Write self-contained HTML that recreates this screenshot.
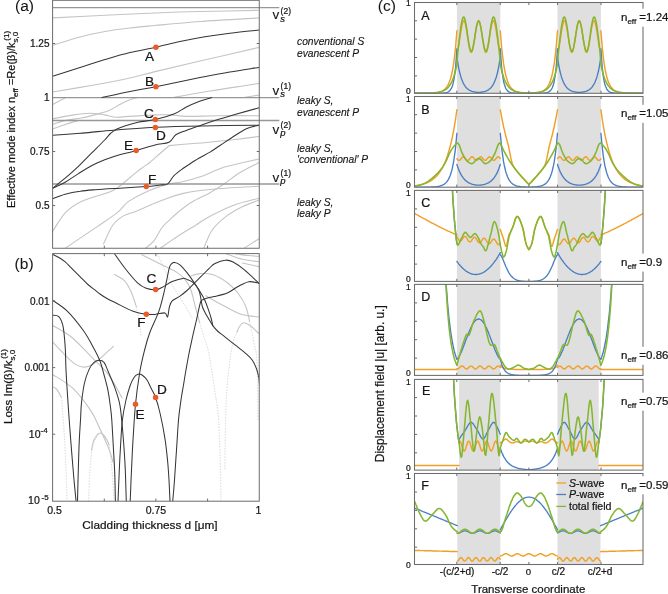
<!DOCTYPE html><html><head><meta charset="utf-8"><style>html,body{margin:0;padding:0;background:#fff;overflow:hidden}svg{display:block;will-change:transform;font-family:"Liberation Sans",sans-serif}text{fill:#151515;stroke:#151515;stroke-width:0.22px}</style></head><body><svg width="668" height="594" viewBox="0 0 668 594">
<rect x="0" y="0" width="668" height="594" fill="#fff"/>
<clipPath id="ca"><rect x="52.6" y="0.3" width="206.66" height="247.95"/></clipPath>
<g clip-path="url(#ca)">
<path d="M52.6,17.9C60.5,17.5 82.9,16.3 100,15.5C117.1,14.7 138.3,13.7 155,13C171.7,12.3 182.7,11.9 200,11.5C217.3,11.1 249.2,10.5 259,10.3" fill="none" stroke="#c4c4c4" stroke-width="1.1" stroke-linejoin="round" stroke-linecap="round" />
<path d="M52.6,45.3C57.2,43.9 71.3,39.3 80,37C88.7,34.7 96.7,33 105,31.5C113.3,30 121.7,29 130,28C138.3,27 143.3,26.6 155,25.5C166.7,24.4 182.7,22.8 200,21.5C217.3,20.2 249.2,18.5 259,17.9" fill="none" stroke="#c4c4c4" stroke-width="1.1" stroke-linejoin="round" stroke-linecap="round" />
<path d="M52.6,92C59.5,90.8 81.1,87.3 94,85C106.9,82.7 119.8,80.2 130,78C140.2,75.8 143.3,74.4 155,71.6C166.7,68.8 182.7,65 200,61C217.3,57 249.2,49.7 259,47.4" fill="none" stroke="#c4c4c4" stroke-width="1.1" stroke-linejoin="round" stroke-linecap="round" />
<path d="M173.9,97.4C179.9,96.3 197.5,93.1 210,91C222.5,88.9 240.8,86.3 249,85C257.2,83.7 257.3,83.7 259,83.4" fill="none" stroke="#c4c4c4" stroke-width="1.1" stroke-linejoin="round" stroke-linecap="round" />
<path d="M245,97.4L259,95" fill="none" stroke="#c4c4c4" stroke-width="1.1" stroke-linejoin="round" stroke-linecap="round" />
<path d="M52.6,104.6C53.8,103.9 57.8,101.7 60,100.5C62.2,99.3 65,98 66,97.5" fill="none" stroke="#c4c4c4" stroke-width="1.1" stroke-linejoin="round" stroke-linecap="round" />
<path d="M52.6,118.8C56.1,118.2 67.5,115.8 73.6,114.9C79.7,114 84.8,113.4 89.3,113.3C93.8,113.2 97.1,113.7 100.3,114.1C103.5,114.5 105.6,115.2 108.2,115.7C110.8,116.2 112.6,117.1 116,117.2C119.4,117.3 122.1,116.8 128.6,116.4C135.1,116 148,115.2 155,114.9C162,114.7 165.5,114.7 170.7,114.9C175.9,115.2 178.5,116.3 186.4,116.4C194.3,116.5 205.8,115.8 217.9,115.7C230,115.6 252.2,115.7 259,115.7" fill="none" stroke="#c4c4c4" stroke-width="1.1" stroke-linejoin="round" stroke-linecap="round" />
<path d="M52.6,124.3C54.8,123.7 60.9,121.5 65.7,120.4C70.5,119.4 76.2,119 81.4,118C86.7,117 92.5,115.4 97.2,114.1C101.9,112.8 105.8,111.9 109.7,110.2C113.6,108.5 117.1,105.8 120.8,103.9C124.5,102.1 128.9,100.2 131.8,99.1C134.7,98 137,97.7 138,97.4" fill="none" stroke="#c4c4c4" stroke-width="1.1" stroke-linejoin="round" stroke-linecap="round" />
<path d="M52.6,129C54.8,128.2 61.4,125.7 65.7,124.3C70,122.9 76.2,121.1 78.3,120.4" fill="none" stroke="#c4c4c4" stroke-width="1.1" stroke-linejoin="round" stroke-linecap="round" />
<path d="M52.6,231.3C54.8,228.2 60.9,217.4 65.7,212.4C70.5,207.4 73.5,205.1 81.4,201.4C89.3,197.7 104.8,194.4 112.9,190.4C121,186.4 125.3,181.2 130,177.5C134.7,173.8 137.9,171.1 141.2,168.5C144.5,165.9 146.9,164.7 150,162.2C153.1,159.7 156.8,156.3 160,153.5C163.2,150.7 167.7,146.9 169.2,145.6" fill="none" stroke="#c4c4c4" stroke-width="1.1" stroke-linejoin="round" stroke-linecap="round" />
<path d="M169.2,145.6C172.7,145.3 183.8,144.3 190,143.8C196.2,143.3 199.8,143.1 206.6,142.5C213.4,141.9 222.3,141 231,140C239.7,139 254.3,137.1 259,136.5" fill="none" stroke="#c4c4c4" stroke-width="1.1" stroke-linejoin="round" stroke-linecap="round" />
<path d="M65,248.4C70.4,244.8 88.4,232.6 97.2,226.6C106,220.6 112.4,216.6 117.6,212.4C122.8,208.2 123.2,205.1 128.6,201.4C134,197.7 143.6,193 150,190.2C156.4,187.4 161.2,185.8 166.8,184.4C172.4,183 177.9,182.8 183.5,181.5C189.1,180.2 193.3,179.2 200.3,176.8C207.3,174.4 215.7,169.8 225.5,166.8C235.3,163.8 253.4,160.3 259,159" fill="none" stroke="#c4c4c4" stroke-width="1.1" stroke-linejoin="round" stroke-linecap="round" />
<path d="M103.5,243.9C105.1,240.8 109.5,229.7 112.9,225C116.3,220.3 120.2,217.8 123.9,215.6C127.6,213.4 130.7,213.4 135,211.7C139.3,210 144.7,207.4 150,205.2C155.3,203 161.2,200.4 166.8,198.4C172.4,196.4 177.9,194.7 183.5,193.4C189.1,192.1 193.3,191.4 200.3,190.5C207.3,189.6 215.7,188.9 225.5,188.2C235.3,187.5 253.4,186.6 259,186.3" fill="none" stroke="#c4c4c4" stroke-width="1.1" stroke-linejoin="round" stroke-linecap="round" />
<path d="M145.3,248.4C146.7,247.2 151.1,244.4 153.9,240.9C156.7,237.4 159.5,230.9 162,227.5C164.5,224.1 166.4,222.9 169.1,220.3C171.8,217.8 174.3,215.2 178.1,212.2C181.9,209.1 186.8,205.1 191.9,202C197,198.9 203.4,196.3 208.7,193.4C214,190.5 218.4,187.8 223.6,184.3C228.8,180.8 234.1,176.1 240,172.5C245.9,168.9 255.8,164.2 259,162.6" fill="none" stroke="#c4c4c4" stroke-width="1.1" stroke-linejoin="round" stroke-linecap="round" />
<path d="M160.2,248.4C162,247.2 166.9,243.6 170.9,240.9C174.9,238.2 180.4,234.5 184.4,232C188.4,229.5 190.9,228.2 195,225.7C199.1,223.2 202.2,220.3 208.7,216.9C215.2,213.5 225.4,208.3 233.8,205.2C242.2,202.1 254.8,199.4 259,198.2" fill="none" stroke="#c4c4c4" stroke-width="1.1" stroke-linejoin="round" stroke-linecap="round" />
<path d="M203.7,248.4C205.1,245.4 208.4,235.6 212,230.3C215.6,225.1 220.5,220.8 225.5,216.9C230.5,213 236.6,209.6 242.2,206.8C247.8,204 256.2,201.1 259,200" fill="none" stroke="#c4c4c4" stroke-width="1.1" stroke-linejoin="round" stroke-linecap="round" />
<path d="M243.9,248.4L259,238.7" fill="none" stroke="#c4c4c4" stroke-width="1.1" stroke-linejoin="round" stroke-linecap="round" />
</g>
<line x1="52.6" y1="7.6" x2="279.3" y2="7.6" stroke="#979797" stroke-width="1.4" />
<line x1="52.6" y1="97.6" x2="279.3" y2="97.6" stroke="#979797" stroke-width="1.4" />
<line x1="52.6" y1="120.5" x2="279.3" y2="120.5" stroke="#979797" stroke-width="1.4" />
<line x1="52.6" y1="184" x2="279.3" y2="184" stroke="#979797" stroke-width="1.4" />
<g clip-path="url(#ca)">
<path d="M52.6,76.2C57.2,74.8 71.3,70.3 80,67.5C88.7,64.7 96.7,62 105,59.5C113.3,57 121.5,54.5 130,52.5C138.5,50.5 147.6,49 155.9,47.2C164.2,45.4 171.8,43.2 180,41.5C188.2,39.8 196.7,38.2 205,36.8C213.3,35.4 221,34.3 230,33.2C239,32.1 254.2,30.6 259,30.1" fill="none" stroke="#363636" stroke-width="1.05" stroke-linejoin="round" stroke-linecap="round" />
<path d="M101.9,97.5C106.6,96.5 121,93.3 130,91.5C139,89.7 144.2,89 155.9,86.7C167.6,84.4 187.7,80 200,77.5C212.3,75 220.2,73.7 230,72C239.8,70.3 254.2,68.2 259,67.4" fill="none" stroke="#363636" stroke-width="1.05" stroke-linejoin="round" stroke-linecap="round" />
<path d="M52.6,188.2C54.7,186.5 60.9,181.8 65.2,178.2C69.5,174.6 74,170.6 78.4,166.4C82.8,162.2 87.1,157.6 91.5,153.2C95.9,148.8 101.5,143.3 104.7,140C107.9,136.7 108.6,135.2 110.5,133.5C112.4,131.8 113.5,130.8 116,129.5C118.5,128.2 121.8,127 125.5,125.8C129.2,124.6 133.1,123.2 138,122.2C142.9,121.2 149.2,120.9 155.2,119.6C161.2,118.2 168.7,116.2 173.9,114.1C179.1,112 182.2,109.1 186.4,107C190.6,104.9 194.8,103.1 199,101.5C203.2,99.9 209.5,98.2 211.6,97.6" fill="none" stroke="#363636" stroke-width="1.05" stroke-linejoin="round" stroke-linecap="round" />
<path d="M52.6,135.3C57.2,135 70.4,134.1 80,133.3C89.6,132.5 97.5,131.5 110,130.5C122.5,129.5 139.9,128.1 155.2,127.3C170.5,126.5 184.7,126.2 202,125.9C219.3,125.6 249.5,125.3 259,125.2" fill="none" stroke="#363636" stroke-width="1.05" stroke-linejoin="round" stroke-linecap="round" />
<path d="M52.6,188.3C53.6,187.8 56.4,186.5 58.5,185.5C60.6,184.5 61.9,184.2 65.2,182.2C68.5,180.2 74,176.3 78.4,173.6C82.8,170.8 87.1,168 91.5,165.7C95.9,163.4 100.3,161.6 104.7,159.8C109.1,158.1 113.5,156.5 117.9,155.2C122.3,153.9 128,152.7 131,151.9C134.1,151.1 132.2,151.7 136.2,150.5C140.2,149.3 149.5,146.3 155,144.9C160.5,143.5 165.5,144 169,142.3C172.5,140.6 172.9,136.8 175.8,134.8C178.7,132.8 182.5,131.9 186.4,130.4C190.3,128.9 193.8,127.7 199,125.9C204.2,124.1 211.6,121.6 217.9,119.6C224.2,117.6 229.8,116.1 236.7,114.1C243.5,112.1 255.3,108.8 259,107.8" fill="none" stroke="#363636" stroke-width="1.05" stroke-linejoin="round" stroke-linecap="round" />
<path d="M52.6,198.8C54.7,198 60.6,195.5 65.2,194.2C69.8,192.9 75.2,191.9 80.3,191.2C85.3,190.4 88.9,190.2 95.5,189.7C102.1,189.2 111.5,188.7 120,188.2C128.5,187.7 139.7,187 146.4,186.5C153.1,186 156.4,185.4 160,185C163.6,184.6 165.3,185.5 167.7,183.9C170.1,182.3 171.6,178 174.2,175.4C176.8,172.8 179.8,170.8 183.3,168.3C186.9,165.8 191.1,162.9 195.5,160.2C199.9,157.5 205.9,154.5 210,152.1C214.1,149.7 216.3,147.9 220,145.5C223.7,143.1 227.6,140.3 232,137.5C236.4,134.7 241.9,130.8 246.4,128.7C250.9,126.6 256.9,125.8 259,125.2" fill="none" stroke="#363636" stroke-width="1.05" stroke-linejoin="round" stroke-linecap="round" />
</g>
<rect x="52.6" y="0.3" width="206.66" height="247.95" fill="none" stroke="#6c6c6c" stroke-width="1"/>
<line x1="52.6" y1="205.5" x2="55.2" y2="205.5" stroke="#6c6c6c" stroke-width="1" />
<line x1="256.7" y1="205.5" x2="259.3" y2="205.5" stroke="#6c6c6c" stroke-width="1" />
<line x1="52.6" y1="151.5" x2="55.2" y2="151.5" stroke="#6c6c6c" stroke-width="1" />
<line x1="256.7" y1="151.5" x2="259.3" y2="151.5" stroke="#6c6c6c" stroke-width="1" />
<line x1="52.6" y1="43.5" x2="55.2" y2="43.5" stroke="#6c6c6c" stroke-width="1" />
<line x1="256.7" y1="43.5" x2="259.3" y2="43.5" stroke="#6c6c6c" stroke-width="1" />
<line x1="104.3" y1="248.2" x2="104.3" y2="245.7" stroke="#6c6c6c" stroke-width="1" />
<line x1="155.9" y1="248.2" x2="155.9" y2="245.7" stroke="#6c6c6c" stroke-width="1" />
<line x1="207.6" y1="248.2" x2="207.6" y2="245.7" stroke="#6c6c6c" stroke-width="1" />
<circle cx="155.9" cy="47.2" r="2.75" fill="#eb5a2b"/>
<circle cx="155.9" cy="86.7" r="2.75" fill="#eb5a2b"/>
<circle cx="155.4" cy="119.4" r="2.75" fill="#eb5a2b"/>
<circle cx="155.4" cy="127.4" r="2.75" fill="#eb5a2b"/>
<circle cx="136.2" cy="150.4" r="2.75" fill="#eb5a2b"/>
<circle cx="146.3" cy="186.5" r="2.75" fill="#eb5a2b"/>
<text x="145.1" y="60.6" font-size="13.6" text-anchor="start"  >A</text>
<text x="144.9" y="86.3" font-size="13.6" text-anchor="start"  >B</text>
<text x="143.9" y="117.6" font-size="13.6" text-anchor="start"  >C</text>
<text x="156.1" y="140.4" font-size="13.6" text-anchor="start"  >D</text>
<text x="124.1" y="149.9" font-size="13.6" text-anchor="start"  >E</text>
<text x="148.1" y="183.8" font-size="13.6" text-anchor="start"  >F</text>
<clipPath id="cb"><rect x="52.6" y="253.6" width="206.66" height="247.6"/></clipPath>
<g clip-path="url(#cb)">
<path d="M114.5,274.5C116.2,275.5 121.7,277.8 124.4,280.6C127.2,283.5 129,287.2 131,291.6C133,296 135.5,304.3 136.4,306.9" fill="none" stroke="#c4c4c4" stroke-width="1.1" stroke-linejoin="round" stroke-linecap="round" />
<path d="M52.6,325.5C55.8,327.5 65,331.9 71.9,337.5C78.8,343.1 88,353.6 93.8,359.4C99.6,365.2 103.4,368.2 106.9,372.5C110.4,376.8 112.5,380.8 115,385C117.5,389.2 120.8,395.8 122,398" fill="none" stroke="#c4c4c4" stroke-width="1.1" stroke-linejoin="round" stroke-linecap="round" />
<path d="M52.6,341.9C55.8,345.2 66.9,357.4 71.9,361.6C76.9,365.8 79.2,366.6 82.8,367C86.4,367.4 88.7,367.2 93.8,363.8C98.9,360.4 110.1,349.2 113.4,346.3" fill="none" stroke="#c4c4c4" stroke-width="1.1" stroke-linejoin="round" stroke-linecap="round" />
<path d="M52.6,374.5C56,376.8 66.3,382.1 72.7,388.2C79.1,394.3 86.4,404.1 90.9,410.9C95.5,417.7 97,422.7 100,429.1C103,435.5 106.9,444 109.1,449.5C111.3,455 112.3,459.9 113,462" fill="none" stroke="#c4c4c4" stroke-width="1.1" stroke-linejoin="round" stroke-linecap="round" />
<path d="M52.6,387C53.3,387.4 55.3,387.6 56.8,389.3C58.3,391 60.6,396 61.4,397.3" fill="none" stroke="#c4c4c4" stroke-width="1.1" stroke-linejoin="round" stroke-linecap="round" />
<path d="M91.5,450C91.9,448.3 92.7,442.8 94,440C95.3,437.2 97.8,433.9 99.5,433.2C101.2,432.4 102.7,434.2 104,435.5C105.3,436.8 106.7,439.4 107.5,441C108.3,442.6 108.8,444.3 109.1,445" fill="none" stroke="#c4c4c4" stroke-width="1.1" stroke-linejoin="round" stroke-linecap="round" />
<path d="M141.8,254.7C144.6,256.1 152.5,260.1 158.3,263C164.1,265.9 172.1,269.4 176.5,272.1C180.9,274.8 182.6,276.4 185,279.4C187.4,282.4 189.2,285.3 190.9,290C192.7,294.7 194,302 195.5,307.5C197,313 199,320.2 199.7,322.8" fill="none" stroke="#c4c4c4" stroke-width="1.1" stroke-linejoin="round" stroke-linecap="round" />
<path d="M191.1,275.7C192.6,275.4 196.6,273.8 200.3,273.6C204,273.5 208.5,273.2 213.1,274.8C217.7,276.4 223.4,279.8 227.7,283C231.9,286.2 235.6,290 238.6,294C241.6,298 244.1,302.2 245.9,306.8C247.7,311.4 249,319 249.6,321.4" fill="none" stroke="#c4c4c4" stroke-width="1.1" stroke-linejoin="round" stroke-linecap="round" />
<path d="M205.8,295.8C208.5,297.3 216.4,301.9 222.2,305C228,308.1 234.7,312.1 240.5,314.1C246.3,316.1 253.8,316.3 256.9,316.8C260,317.3 258.6,317 259,317" fill="none" stroke="#c4c4c4" stroke-width="1.1" stroke-linejoin="round" stroke-linecap="round" />
<path d="M225.8,253.7C228.6,254.6 236.3,257.9 242.3,259.3C248.3,260.7 258.7,261.6 262,262" fill="none" stroke="#c4c4c4" stroke-width="1.1" stroke-linejoin="round" stroke-linecap="round" />
<path d="M235,253.7C237.2,254 243.5,255 248,255.5C252.5,256 259.7,256.3 262,256.5" fill="none" stroke="#c4c4c4" stroke-width="1.1" stroke-linejoin="round" stroke-linecap="round" />
<path d="M242.3,263L259,266.6" fill="none" stroke="#c4c4c4" stroke-width="1.1" stroke-linejoin="round" stroke-linecap="round" />
<path d="M237,332C237.4,331.1 238.4,328 239.5,326.5C240.6,325 241.7,323 243.4,322.8C245.2,322.6 247.4,323.7 250,325.5C252.6,327.3 257.5,332.3 259,333.7" fill="none" stroke="#c4c4c4" stroke-width="1.1" stroke-linejoin="round" stroke-linecap="round" />
<path d="M136.4,306.9C136.8,309.1 138.2,315.3 139,320C139.8,324.7 140.7,332.5 141,335" fill="none" stroke="#cfcfcf" stroke-width="0.9" stroke-linejoin="round" stroke-linecap="round" stroke-dasharray="0.6 2.2"/>
<path d="M61.4,397.3C61.8,402.8 63.2,417.9 64,430C64.8,442.1 65.5,458.3 66,470C66.5,481.7 66.8,495 67,500" fill="none" stroke="#cfcfcf" stroke-width="0.9" stroke-linejoin="round" stroke-linecap="round" stroke-dasharray="0.6 2.2"/>
<path d="M88.6,501C88.8,495.8 89.3,479.3 90,470C90.7,460.7 91.4,451.1 93,445C94.6,438.9 98.4,435.2 99.5,433.2" fill="none" stroke="#cfcfcf" stroke-width="0.9" stroke-linejoin="round" stroke-linecap="round" stroke-dasharray="0.6 2.2"/>
<path d="M109.1,445C109.6,449.2 111.2,460.8 112,470C112.8,479.2 113.7,495 114,500" fill="none" stroke="#cfcfcf" stroke-width="0.9" stroke-linejoin="round" stroke-linecap="round" stroke-dasharray="0.6 2.2"/>
<path d="M157.4,253.7C159.4,258 166,273 169.2,279.4C172.4,285.8 173.8,287.6 176.5,292.2C179.2,296.8 183.1,302.5 185.7,306.8C188.3,311.1 190.9,316.1 192,318" fill="none" stroke="#cfcfcf" stroke-width="0.9" stroke-linejoin="round" stroke-linecap="round" stroke-dasharray="0.6 2.2"/>
<path d="M199.7,322.8C200.4,325.2 202.6,332.3 204,337C205.4,341.7 206.9,344.4 208.4,351.2C209.9,357.9 211.5,369.5 212.8,377.5C214.1,385.5 215.2,393.1 216.1,399.3C217,405.5 217.7,407.8 218.3,414.6C218.9,421.4 219.1,430.8 219.5,440C219.9,449.2 220.2,460 220.5,470C220.8,480 220.9,495 221,500" fill="none" stroke="#cfcfcf" stroke-width="0.9" stroke-linejoin="round" stroke-linecap="round" stroke-dasharray="0.6 2.2"/>
<path d="M249.6,321.4C250,323.3 251.2,329.1 252,333C252.8,336.9 253.6,341.2 254.3,345C255.1,348.8 256,349.8 256.5,355.6C257,361.4 257.2,369.3 257.5,380C257.8,390.7 257.9,413.3 258,420" fill="none" stroke="#cfcfcf" stroke-width="0.9" stroke-linejoin="round" stroke-linecap="round" stroke-dasharray="0.6 2.2"/>
<path d="M237,332C236.2,334.1 233.8,338.9 232.5,344.7C231.2,350.4 230.1,359.2 229.2,366.5C228.3,373.8 227.6,381.1 227,388.4C226.4,395.7 226.2,401.7 225.9,410.3C225.6,418.9 225.4,430.1 225.2,440C225,449.9 224.9,465 224.8,470" fill="none" stroke="#cfcfcf" stroke-width="0.9" stroke-linejoin="round" stroke-linecap="round" stroke-dasharray="0.6 2.2"/>
<path d="M52.5,254.2C53.5,254.7 56.3,255.9 58.4,257.2C60.5,258.5 63.1,260.1 65.2,261.8C67.3,263.6 68.6,265.3 71,267.7C73.4,270.1 76.7,273.3 79.5,276.1C82.3,278.9 85.2,282.1 87.9,284.5C90.6,286.9 93.5,288.8 95.5,290.4C97.5,292 98.1,292.6 100,294C101.9,295.4 104.4,297 107,298.5C109.6,300 111.2,300.7 115.6,302.8C119.9,304.9 128,309.4 133.1,311.3C138.2,313.2 142.7,313.8 146.3,314.3C150,314.8 151.9,314.6 155,314.4C158.1,314.2 162.7,312.5 164.8,312.9C166.9,313.3 166.8,317.8 167.6,316.8C168.4,315.8 168.6,309.6 169.4,307C170.2,304.4 170.5,302.7 172.2,300.9C173.9,299.1 177.1,298.1 179.6,296.4C182.1,294.7 184.5,292.7 187,290.5C189.5,288.3 191.9,285.6 194.4,283.1C196.9,280.6 199.4,278.2 201.9,275.7C204.4,273.2 207,270.3 209.2,268.3C211.4,266.3 212.3,264.9 215,263.5C217.7,262.1 222.2,260.4 225.2,260.2C228.2,259.9 229.9,260.4 233.1,262C236.2,263.6 239.8,266.1 244.1,269.7C248.4,273.2 256.5,281 259,283.3" fill="none" stroke="#363636" stroke-width="1.05" stroke-linejoin="round" stroke-linecap="round" />
<path d="M114.5,253.7C116.2,256 120.6,262.6 124.4,267.5C128.2,272.4 133.8,279.3 137.5,282.8C141.2,286.3 143.3,287.1 146.3,288.3C149.3,289.5 153,289.9 155.6,289.8C158.2,289.7 159.1,288.9 161.9,287.5C164.7,286.1 168.8,283.1 172.2,281.6C175.6,280.1 180.1,278.8 182.6,278.4C185.1,278 185.3,278.7 187,279.4C188.7,280.1 191.3,281 193,282.4C194.7,283.8 196.1,285.6 197.4,287.5C198.8,289.4 199.9,291.5 201.1,293.5C202.3,295.5 203.3,296.8 204.5,299.5C205.7,302.2 207.3,306.5 208.4,309.7C209.5,312.9 210.5,315.9 211.2,318.5C211.9,321.1 212.5,324.4 212.8,325.6" fill="none" stroke="#363636" stroke-width="1.05" stroke-linejoin="round" stroke-linecap="round" />
<path d="M130.2,501.5C130.4,496.2 131,480.2 131.5,470C132,459.8 132.3,450.9 133,440C133.7,429.1 134.4,415.6 135.5,404.3C136.6,393 138.3,381.1 139.8,372C141.3,362.9 142.9,356.7 144.6,350C146.3,343.3 147.6,338.5 150,332C152.4,325.5 156.4,318.4 158.9,311.2C161.4,304 163.1,296.1 164.8,289C166.5,281.9 168.1,272.5 169.2,268.3C170.3,264.1 170.6,264.8 171.5,263.8C172.4,262.8 173.1,262.3 174.4,262.4C175.8,262.5 177.5,262.9 179.6,264.6C181.7,266.3 184.5,269.6 187,272.7C189.5,275.8 192.4,280.1 194.4,283.1C196.4,286.1 197.9,288.2 198.9,290.5C199.9,292.8 200.1,294.4 200.6,297C201.1,299.6 201.5,303.4 202.2,306C202.9,308.6 204,310.4 205,312.5C206,314.6 207.1,316.2 208.4,318.4C209.7,320.6 211.2,323.4 212.8,325.6C214.4,327.8 216.2,329.8 218,331.5C219.8,333.2 220.9,333.7 223.7,335.9C226.5,338.1 231,341.8 234.7,344.7C238.3,347.6 242.7,350.8 245.6,353.4C248.5,355.9 250.4,357.4 252.2,360C254,362.6 255.4,365.8 256.5,368.7C257.6,371.6 258.3,374.8 258.8,377.5C259.3,380.2 259.4,383.8 259.5,385" fill="none" stroke="#363636" stroke-width="1.05" stroke-linejoin="round" stroke-linecap="round" />
<path d="M172.7,501.5C173,497.9 173.9,488.6 174.5,480C175.1,471.4 175.8,460 176.5,450C177.2,440 177.8,428.3 178.5,420C179.2,411.7 180.2,405.8 181,400C181.8,394.2 182.7,389.8 183.5,385C184.3,380.2 184.9,376 185.8,371C186.7,366 187.6,360.7 188.7,355C189.8,349.3 191.3,342.5 192.5,337C193.7,331.5 195,326.2 196,322C197,317.8 197.5,314.9 198.3,311.5C199.1,308.1 199.9,303.5 200.8,301.5C201.7,299.5 202.2,300.1 203.5,299.5C204.8,298.9 206.7,298.2 208.4,297.7C210.2,297.2 210.8,297.4 214,296.6C217.2,295.8 223.3,294.7 227.3,293C231.3,291.3 234.5,288.4 238.1,286.5C241.7,284.6 245.4,282.2 248.9,281.7C252.4,281.2 257.3,283 259,283.3" fill="none" stroke="#363636" stroke-width="1.05" stroke-linejoin="round" stroke-linecap="round" />
<path d="M52.6,300.3C55.1,302.1 62.4,306.4 67.5,311.3C72.6,316.2 78.9,324.4 83,330C87.1,335.6 89.3,340.1 92.1,345.2C94.9,350.2 97.7,355.2 99.7,360.3C101.7,365.4 102.8,370.4 104.2,375.5C105.6,380.6 107,385.6 108,390.6C109,395.7 109.7,400.9 110.3,405.8C110.9,410.7 111.3,412.6 111.8,420C112.3,427.4 113,440.8 113.5,450C114,459.2 114.5,466.4 114.8,475C115.1,483.6 115.3,497.1 115.4,501.5" fill="none" stroke="#363636" stroke-width="1.05" stroke-linejoin="round" stroke-linecap="round" />
<path d="M77.5,501.5C77.6,496.2 78,480.2 78.3,470C78.6,459.8 78.9,448.3 79.3,440C79.7,431.7 80.1,426.2 80.5,420C80.9,413.8 80.8,408.9 81.5,402.7C82.2,396.5 83.2,388.6 84.5,383C85.8,377.4 87.5,372.8 89.1,369.4C90.7,365.9 92.3,363.8 94,362.3C95.7,360.8 97.7,360.3 99.4,360.3C101.1,360.3 102.7,360.8 104,362.3C105.3,363.8 105.5,365.2 107.3,369.4C109.1,373.6 112.8,382.1 114.8,387.6C116.8,393.2 118.2,397.3 119.4,402.7C120.6,408.1 121,412.9 121.7,420C122.4,427.1 123.2,436.7 123.8,445C124.4,453.3 124.9,460.6 125.3,470C125.7,479.4 126.1,496.2 126.3,501.5" fill="none" stroke="#363636" stroke-width="1.05" stroke-linejoin="round" stroke-linecap="round" />
<path d="M52.6,315.2C53.6,315.4 57,314.8 58.8,316.7C60.5,318.6 62,321.3 63.1,326.6C64.2,331.9 64.8,341.3 65.3,348.5C65.8,355.7 65.5,359.8 66,370C66.5,380.2 67.6,396.7 68.5,410C69.4,423.3 70.6,438.3 71.5,450C72.4,461.7 73.2,471.4 74,480C74.8,488.6 75.8,497.9 76.1,501.5" fill="none" stroke="#363636" stroke-width="1.05" stroke-linejoin="round" stroke-linecap="round" />
<path d="M118,501.5C118.2,496.2 118.9,479.4 119.3,470C119.7,460.6 120.1,453.3 120.6,445C121.1,436.7 121.5,427.5 122.4,420C123.3,412.5 124.7,405.7 126,400C127.3,394.3 128.7,389.8 130,386C131.3,382.2 132.7,379.5 134,377.5C135.3,375.5 136.7,374.6 138,374.2C139.3,373.8 140.5,374 142,375C143.5,376 145.5,377.8 147,380C148.5,382.2 149.6,385.1 151,388C152.4,390.9 154.1,393.3 155.6,397.5C157.1,401.7 158.4,406.1 160,413C161.6,419.9 163.8,431 165,438.8C166.2,446.6 166.8,453.1 167.5,460C168.2,466.9 168.6,473.1 169,480C169.4,486.9 169.8,497.9 170,501.5" fill="none" stroke="#363636" stroke-width="1.05" stroke-linejoin="round" stroke-linecap="round" />
</g>
<rect x="52.6" y="253.6" width="206.66" height="247.6" fill="none" stroke="#6c6c6c" stroke-width="1"/>
<line x1="52.6" y1="301" x2="55.2" y2="301" stroke="#6c6c6c" stroke-width="1" />
<line x1="52.6" y1="367.6" x2="55.2" y2="367.6" stroke="#6c6c6c" stroke-width="1" />
<line x1="52.6" y1="434.2" x2="55.2" y2="434.2" stroke="#6c6c6c" stroke-width="1" />
<line x1="104.3" y1="501.2" x2="104.3" y2="498.6" stroke="#6c6c6c" stroke-width="1" />
<line x1="104.3" y1="253.6" x2="104.3" y2="256.2" stroke="#6c6c6c" stroke-width="1" />
<line x1="155.9" y1="501.2" x2="155.9" y2="498.6" stroke="#6c6c6c" stroke-width="1" />
<line x1="155.9" y1="253.6" x2="155.9" y2="256.2" stroke="#6c6c6c" stroke-width="1" />
<line x1="207.6" y1="501.2" x2="207.6" y2="498.6" stroke="#6c6c6c" stroke-width="1" />
<line x1="207.6" y1="253.6" x2="207.6" y2="256.2" stroke="#6c6c6c" stroke-width="1" />
<circle cx="155.6" cy="289.6" r="2.75" fill="#eb5a2b"/>
<circle cx="146.3" cy="314.3" r="2.75" fill="#eb5a2b"/>
<circle cx="155.6" cy="397.4" r="2.75" fill="#eb5a2b"/>
<circle cx="135.5" cy="404.3" r="2.75" fill="#eb5a2b"/>
<text x="146.4" y="283" font-size="13.6" text-anchor="start"  >C</text>
<text x="137.3" y="327" font-size="13.6" text-anchor="start"  >F</text>
<text x="157" y="393.9" font-size="13.6" text-anchor="start"  >D</text>
<text x="135.5" y="418.9" font-size="13.6" text-anchor="start"  >E</text>
<clipPath id="cc0"><rect x="414.5" y="2.5" width="228.5" height="90.8"/></clipPath>
<rect x="456.9" y="2.5" width="43.4" height="90.8" fill="#dfdfdf"/>
<rect x="557.5" y="2.5" width="43.4" height="90.8" fill="#dfdfdf"/>
<g clip-path="url(#cc0)">
<path d="M414.5,93.2 L415.2,93.2 L415.8,93.2 L416.5,93.2 L417.1,93.2 L417.8,93.2 L418.5,93.2 L419.1,93.2 L419.8,93.2 L420.5,93.2 L421.1,93.2 L421.8,93.2 L422.4,93.2 L423.1,93.2 L423.8,93.2 L424.4,93.2 L425.1,93.2 L425.8,93.2 L426.4,93.2 L427.1,93.2 L427.8,93.2 L428.4,93.2 L429.1,93.1 L429.7,93.1 L430.4,93.1 L431.1,93.1 L431.7,93 L432.4,93 L433.1,93 L433.7,92.9 L434.4,92.9 L435,92.8 L435.7,92.7 L436.4,92.7 L437,92.6 L437.7,92.5 L438.3,92.3 L439,92.2 L439.7,92 L440.3,91.8 L441,91.6 L441.7,91.3 L442.3,91 L443,90.6 L443.6,90.2 L444.3,89.7 L445,89.1 L445.6,88.4 L446.3,87.6 L447,86.7 L447.6,85.7 L448.3,84.4 L448.9,83 L449.6,81.3 L450.3,79.4 L450.9,77.1 L451.6,74.5 L452.3,71.5 L452.9,68 L453.6,63.8 L454.2,59.1 L454.9,53.5 L455.6,47 L456.2,39.5 L456.9,30.8" fill="none" stroke="#f0a028" stroke-width="1.45" stroke-linejoin="round" stroke-linecap="round" />
<path d="M456.9,52.1 L457.6,50.7 L458.2,48.2 L458.9,44.8 L459.5,40.7 L460.2,36.3 L460.8,31.9 L461.5,27.9 L462.2,24.6 L462.8,22.1 L463.5,20.8 L464.1,20.8 L464.8,21.9 L465.4,24.2 L466.1,27.5 L466.8,31.4 L467.4,35.8 L468.1,40.2 L468.7,44.3 L469.4,47.8 L470.1,50.5 L470.7,52 L471.4,52.4 L472,51.5 L472.7,49.4 L473.3,46.4 L474,42.6 L474.7,38.3 L475.3,33.8 L476,29.6 L476.6,25.9 L477.3,23.1 L477.9,21.3 L478.6,20.6 L479.3,21.3 L479.9,23.1 L480.6,25.9 L481.2,29.6 L481.9,33.8 L482.5,38.3 L483.2,42.6 L483.9,46.4 L484.5,49.4 L485.2,51.5 L485.8,52.4 L486.5,52 L487.1,50.5 L487.8,47.8 L488.5,44.3 L489.1,40.2 L489.8,35.8 L490.4,31.4 L491.1,27.5 L491.8,24.2 L492.4,21.9 L493.1,20.8 L493.7,20.8 L494.4,22.1 L495,24.6 L495.7,27.9 L496.4,31.9 L497,36.3 L497.7,40.7 L498.3,44.8 L499,48.2 L499.6,50.7 L500.3,52.1" fill="none" stroke="#f0a028" stroke-width="1.45" stroke-linejoin="round" stroke-linecap="round" />
<path d="M500.3,30.8 L501,39.6 L501.6,47.1 L502.3,53.6 L503,59.1 L503.6,63.9 L504.3,68 L505,71.6 L505.6,74.6 L506.3,77.2 L507,79.5 L507.6,81.4 L508.3,83.1 L508.9,84.5 L509.6,85.7 L510.3,86.8 L510.9,87.7 L511.6,88.5 L512.3,89.1 L512.9,89.7 L513.6,90.2 L514.3,90.6 L514.9,91 L515.6,91.3 L516.3,91.6 L516.9,91.8 L517.6,92 L518.3,92.2 L518.9,92.3 L519.6,92.5 L520.3,92.6 L520.9,92.7 L521.6,92.8 L522.2,92.8 L522.9,92.9 L523.6,92.9 L524.2,93 L524.9,93 L525.6,93.1 L526.2,93.1 L526.9,93.1 L527.6,93.1 L528.2,93.1 L528.9,93.2 L529.6,93.1 L530.2,93.1 L530.9,93.1 L531.6,93.1 L532.2,93.1 L532.9,93 L533.6,93 L534.2,92.9 L534.9,92.9 L535.6,92.8 L536.2,92.8 L536.9,92.7 L537.5,92.6 L538.2,92.5 L538.9,92.3 L539.5,92.2 L540.2,92 L540.9,91.8 L541.5,91.6 L542.2,91.3 L542.9,91 L543.5,90.6 L544.2,90.2 L544.9,89.7 L545.5,89.1 L546.2,88.5 L546.9,87.7 L547.5,86.8 L548.2,85.7 L548.9,84.5 L549.5,83.1 L550.2,81.4 L550.8,79.5 L551.5,77.2 L552.2,74.6 L552.8,71.6 L553.5,68 L554.2,63.9 L554.8,59.1 L555.5,53.6 L556.2,47.1 L556.8,39.6 L557.5,30.8" fill="none" stroke="#f0a028" stroke-width="1.45" stroke-linejoin="round" stroke-linecap="round" />
<path d="M557.5,52.1 L558.2,50.7 L558.8,48.2 L559.5,44.8 L560.1,40.7 L560.8,36.3 L561.4,31.9 L562.1,27.9 L562.8,24.6 L563.4,22.1 L564.1,20.8 L564.7,20.8 L565.4,21.9 L566,24.2 L566.7,27.5 L567.4,31.4 L568,35.8 L568.7,40.2 L569.3,44.3 L570,47.8 L570.7,50.5 L571.3,52 L572,52.4 L572.6,51.5 L573.3,49.4 L573.9,46.4 L574.6,42.6 L575.3,38.3 L575.9,33.8 L576.6,29.6 L577.2,25.9 L577.9,23.1 L578.5,21.3 L579.2,20.6 L579.9,21.3 L580.5,23.1 L581.2,25.9 L581.8,29.6 L582.5,33.8 L583.1,38.3 L583.8,42.6 L584.5,46.4 L585.1,49.4 L585.8,51.5 L586.4,52.4 L587.1,52 L587.7,50.5 L588.4,47.8 L589.1,44.3 L589.7,40.2 L590.4,35.8 L591,31.4 L591.7,27.5 L592.4,24.2 L593,21.9 L593.7,20.8 L594.3,20.8 L595,22.1 L595.6,24.6 L596.3,27.9 L597,31.9 L597.6,36.3 L598.3,40.7 L598.9,44.8 L599.6,48.2 L600.2,50.7 L600.9,52.1" fill="none" stroke="#f0a028" stroke-width="1.45" stroke-linejoin="round" stroke-linecap="round" />
<path d="M600.9,30.8 L601.6,39.5 L602.2,47 L602.9,53.4 L603.5,58.9 L604.2,63.7 L604.8,67.8 L605.5,71.3 L606.2,74.4 L606.8,77 L607.5,79.2 L608.1,81.2 L608.8,82.9 L609.5,84.3 L610.1,85.6 L610.8,86.6 L611.4,87.5 L612.1,88.3 L612.7,89 L613.4,89.6 L614.1,90.1 L614.7,90.5 L615.4,90.9 L616,91.2 L616.7,91.5 L617.3,91.8 L618,92 L618.7,92.1 L619.3,92.3 L620,92.4 L620.6,92.5 L621.3,92.6 L622,92.7 L622.6,92.8 L623.3,92.9 L623.9,92.9 L624.6,93 L625.2,93 L625.9,93 L626.6,93.1 L627.2,93.1 L627.9,93.1 L628.5,93.1 L629.2,93.1 L629.8,93.2 L630.5,93.2 L631.2,93.2 L631.8,93.2 L632.5,93.2 L633.1,93.2 L633.8,93.2 L634.4,93.2 L635.1,93.2 L635.8,93.2 L636.4,93.2 L637.1,93.2 L637.7,93.2 L638.4,93.2 L639.1,93.2 L639.7,93.2 L640.4,93.2 L641,93.2 L641.7,93.2 L642.3,93.2 L643,93.2" fill="none" stroke="#f0a028" stroke-width="1.45" stroke-linejoin="round" stroke-linecap="round" />
<path d="M414.5,93.2 L415.2,93.2 L415.8,93.2 L416.5,93.2 L417.1,93.2 L417.8,93.2 L418.5,93.2 L419.1,93.2 L419.8,93.2 L420.5,93.2 L421.1,93.2 L421.8,93.2 L422.4,93.2 L423.1,93.2 L423.8,93.2 L424.4,93.2 L425.1,93.2 L425.8,93.2 L426.4,93.2 L427.1,93.2 L427.8,93.2 L428.4,93.2 L429.1,93.2 L429.7,93.2 L430.4,93.2 L431.1,93.2 L431.7,93.2 L432.4,93.2 L433.1,93.2 L433.7,93.2 L434.4,93.2 L435,93.2 L435.7,93.2 L436.4,93.2 L437,93.2 L437.7,93.2 L438.3,93.2 L439,93.2 L439.7,93.2 L440.3,93.2 L441,93.2 L441.7,93.1 L442.3,93.1 L443,93.1 L443.6,93 L444.3,93 L445,92.9 L445.6,92.8 L446.3,92.6 L447,92.4 L447.6,92.2 L448.3,91.8 L448.9,91.4 L449.6,90.8 L450.3,90.1 L450.9,89.2 L451.6,87.9 L452.3,86.3 L452.9,84.2 L453.6,81.4 L454.2,77.8 L454.9,73.2 L455.6,67.1 L456.2,59.1 L456.9,48.8" fill="none" stroke="#4a7ec4" stroke-width="1.35" stroke-linejoin="round" stroke-linecap="round" />
<path d="M456.9,56.9 L457.6,61.4 L458.2,65.3 L458.9,68.8 L459.5,71.8 L460.2,74.4 L460.8,76.7 L461.5,78.8 L462.2,80.6 L462.8,82.1 L463.5,83.5 L464.1,84.7 L464.8,85.7 L465.4,86.6 L466.1,87.5 L466.8,88.2 L467.4,88.8 L468.1,89.3 L468.7,89.8 L469.4,90.2 L470.1,90.5 L470.7,90.9 L471.4,91.1 L472,91.4 L472.7,91.6 L473.3,91.7 L474,91.9 L474.7,92 L475.3,92.1 L476,92.2 L476.6,92.2 L477.3,92.3 L477.9,92.3 L478.6,92.3 L479.3,92.3 L479.9,92.3 L480.6,92.2 L481.2,92.2 L481.9,92.1 L482.5,92 L483.2,91.9 L483.9,91.7 L484.5,91.6 L485.2,91.4 L485.8,91.1 L486.5,90.9 L487.1,90.5 L487.8,90.2 L488.5,89.8 L489.1,89.3 L489.8,88.8 L490.4,88.2 L491.1,87.5 L491.8,86.6 L492.4,85.7 L493.1,84.7 L493.7,83.5 L494.4,82.1 L495,80.6 L495.7,78.8 L496.4,76.7 L497,74.4 L497.7,71.8 L498.3,68.8 L499,65.3 L499.6,61.4 L500.3,56.9" fill="none" stroke="#4a7ec4" stroke-width="1.35" stroke-linejoin="round" stroke-linecap="round" />
<path d="M500.3,48.8 L501,59.2 L501.6,67.1 L502.3,73.2 L503,77.9 L503.6,81.5 L504.3,84.2 L505,86.3 L505.6,88 L506.3,89.2 L507,90.1 L507.6,90.9 L508.3,91.4 L508.9,91.9 L509.6,92.2 L510.3,92.4 L510.9,92.6 L511.6,92.8 L512.3,92.9 L512.9,93 L513.6,93 L514.3,93.1 L514.9,93.1 L515.6,93.2 L516.3,93.2 L516.9,93.2 L517.6,93.2 L518.3,93.2 L518.9,93.2 L519.6,93.2 L520.3,93.2 L520.9,93.2 L521.6,93.2 L522.2,93.2 L522.9,93.2 L523.6,93.2 L524.2,93.2 L524.9,93.2 L525.6,93.2 L526.2,93.2 L526.9,93.2 L527.6,93.2 L528.2,93.2 L528.9,93.2 L529.6,93.2 L530.2,93.2 L530.9,93.2 L531.6,93.2 L532.2,93.2 L532.9,93.2 L533.6,93.2 L534.2,93.2 L534.9,93.2 L535.6,93.2 L536.2,93.2 L536.9,93.2 L537.5,93.2 L538.2,93.2 L538.9,93.2 L539.5,93.2 L540.2,93.2 L540.9,93.2 L541.5,93.2 L542.2,93.2 L542.9,93.1 L543.5,93.1 L544.2,93 L544.9,93 L545.5,92.9 L546.2,92.8 L546.9,92.6 L547.5,92.4 L548.2,92.2 L548.9,91.9 L549.5,91.4 L550.2,90.9 L550.8,90.1 L551.5,89.2 L552.2,88 L552.8,86.3 L553.5,84.2 L554.2,81.5 L554.8,77.9 L555.5,73.2 L556.2,67.1 L556.8,59.2 L557.5,48.8" fill="none" stroke="#4a7ec4" stroke-width="1.35" stroke-linejoin="round" stroke-linecap="round" />
<path d="M557.5,56.9 L558.2,61.4 L558.8,65.3 L559.5,68.8 L560.1,71.8 L560.8,74.4 L561.4,76.7 L562.1,78.8 L562.8,80.6 L563.4,82.1 L564.1,83.5 L564.7,84.7 L565.4,85.7 L566,86.6 L566.7,87.5 L567.4,88.2 L568,88.8 L568.7,89.3 L569.3,89.8 L570,90.2 L570.7,90.5 L571.3,90.9 L572,91.1 L572.6,91.4 L573.3,91.6 L573.9,91.7 L574.6,91.9 L575.3,92 L575.9,92.1 L576.6,92.2 L577.2,92.2 L577.9,92.3 L578.5,92.3 L579.2,92.3 L579.9,92.3 L580.5,92.3 L581.2,92.2 L581.8,92.2 L582.5,92.1 L583.1,92 L583.8,91.9 L584.5,91.7 L585.1,91.6 L585.8,91.4 L586.4,91.1 L587.1,90.9 L587.7,90.5 L588.4,90.2 L589.1,89.8 L589.7,89.3 L590.4,88.8 L591,88.2 L591.7,87.5 L592.4,86.6 L593,85.7 L593.7,84.7 L594.3,83.5 L595,82.1 L595.6,80.6 L596.3,78.8 L597,76.7 L597.6,74.4 L598.3,71.8 L598.9,68.8 L599.6,65.3 L600.2,61.4 L600.9,56.9" fill="none" stroke="#4a7ec4" stroke-width="1.35" stroke-linejoin="round" stroke-linecap="round" />
<path d="M600.9,48.8 L601.6,59.1 L602.2,67 L602.9,73.1 L603.5,77.7 L604.2,81.3 L604.8,84.1 L605.5,86.2 L606.2,87.8 L606.8,89.1 L607.5,90 L608.1,90.8 L608.8,91.4 L609.5,91.8 L610.1,92.1 L610.8,92.4 L611.4,92.6 L612.1,92.7 L612.7,92.9 L613.4,93 L614.1,93 L614.7,93.1 L615.4,93.1 L616,93.1 L616.7,93.2 L617.3,93.2 L618,93.2 L618.7,93.2 L619.3,93.2 L620,93.2 L620.6,93.2 L621.3,93.2 L622,93.2 L622.6,93.2 L623.3,93.2 L623.9,93.2 L624.6,93.2 L625.2,93.2 L625.9,93.2 L626.6,93.2 L627.2,93.2 L627.9,93.2 L628.5,93.2 L629.2,93.2 L629.8,93.2 L630.5,93.2 L631.2,93.2 L631.8,93.2 L632.5,93.2 L633.1,93.2 L633.8,93.2 L634.4,93.2 L635.1,93.2 L635.8,93.2 L636.4,93.2 L637.1,93.2 L637.7,93.2 L638.4,93.2 L639.1,93.2 L639.7,93.2 L640.4,93.2 L641,93.2 L641.7,93.2 L642.3,93.2 L643,93.2" fill="none" stroke="#4a7ec4" stroke-width="1.35" stroke-linejoin="round" stroke-linecap="round" />
<path d="M414.5,93.2 L415.2,93.2 L415.8,93.2 L416.5,93.2 L417.1,93.2 L417.8,93.2 L418.5,93.2 L419.1,93.2 L419.8,93.2 L420.5,93.2 L421.1,93.2 L421.8,93.2 L422.4,93.2 L423.1,93.2 L423.8,93.2 L424.4,93.2 L425.1,93.2 L425.8,93.1 L426.4,93.1 L427.1,93.1 L427.8,93.1 L428.4,93.1 L429.1,93.1 L429.7,93 L430.4,93 L431.1,93 L431.7,93 L432.4,92.9 L433.1,92.9 L433.7,92.8 L434.4,92.8 L435,92.7 L435.7,92.6 L436.4,92.6 L437,92.5 L437.7,92.4 L438.3,92.3 L439,92.1 L439.7,92 L440.3,91.8 L441,91.6 L441.7,91.4 L442.3,91.2 L443,90.9 L443.6,90.6 L444.3,90.3 L445,89.9 L445.6,89.5 L446.3,89 L447,88.5 L447.6,87.9 L448.3,87.2 L448.9,86.4 L449.6,85.5 L450.3,84.5 L450.9,83.4 L451.6,82.2 L452.3,80.8 L452.9,79.2 L453.6,77.3 L454.2,75.3 L454.9,73 L455.6,70.4 L456.2,67.5 L456.9,64.2" fill="none" stroke="#84b630" stroke-width="1.55" stroke-linejoin="round" stroke-linecap="round" />
<path d="M456.9,63 L457.6,54.9 L458.2,48.2 L458.9,42.3 L459.5,36.8 L460.2,31.8 L460.8,27.2 L461.5,23.2 L462.2,20.1 L462.8,18 L463.5,17 L464.1,17.3 L464.8,18.8 L465.4,21.4 L466.1,25 L466.8,29.2 L467.4,33.8 L468.1,38.5 L468.7,42.8 L469.4,46.5 L470.1,49.3 L470.7,51 L471.4,51.5 L472,50.7 L472.7,48.8 L473.3,45.9 L474,42.2 L474.7,38 L475.3,33.8 L476,29.7 L476.6,26.2 L477.3,23.4 L477.9,21.7 L478.6,21.1 L479.3,21.7 L479.9,23.4 L480.6,26.2 L481.2,29.7 L481.9,33.8 L482.5,38 L483.2,42.2 L483.9,45.9 L484.5,48.8 L485.2,50.7 L485.8,51.5 L486.5,51 L487.1,49.3 L487.8,46.5 L488.5,42.8 L489.1,38.5 L489.8,33.8 L490.4,29.2 L491.1,25 L491.8,21.4 L492.4,18.8 L493.1,17.3 L493.7,17 L494.4,18 L495,20.1 L495.7,23.2 L496.4,27.2 L497,31.8 L497.7,36.8 L498.3,42.3 L499,48.2 L499.6,54.9 L500.3,63" fill="none" stroke="#84b630" stroke-width="1.55" stroke-linejoin="round" stroke-linecap="round" />
<path d="M500.3,64.2 L501,67.5 L501.6,70.4 L502.3,73 L503,75.3 L503.6,77.4 L504.3,79.2 L505,80.8 L505.6,82.2 L506.3,83.5 L507,84.6 L507.6,85.6 L508.3,86.4 L508.9,87.2 L509.6,87.9 L510.3,88.5 L510.9,89.1 L511.6,89.5 L512.3,90 L512.9,90.3 L513.6,90.7 L514.3,91 L514.9,91.2 L515.6,91.5 L516.3,91.7 L516.9,91.8 L517.6,92 L518.3,92.1 L518.9,92.3 L519.6,92.4 L520.3,92.5 L520.9,92.6 L521.6,92.6 L522.2,92.7 L522.9,92.8 L523.6,92.8 L524.2,92.9 L524.9,92.9 L525.6,93 L526.2,93 L526.9,93 L527.6,93 L528.2,93.1 L528.9,93.1 L529.6,93.1 L530.2,93 L530.9,93 L531.6,93 L532.2,93 L532.9,92.9 L533.6,92.9 L534.2,92.8 L534.9,92.8 L535.6,92.7 L536.2,92.6 L536.9,92.6 L537.5,92.5 L538.2,92.4 L538.9,92.3 L539.5,92.1 L540.2,92 L540.9,91.8 L541.5,91.7 L542.2,91.5 L542.9,91.2 L543.5,91 L544.2,90.7 L544.9,90.3 L545.5,90 L546.2,89.5 L546.9,89.1 L547.5,88.5 L548.2,87.9 L548.9,87.2 L549.5,86.4 L550.2,85.6 L550.8,84.6 L551.5,83.5 L552.2,82.2 L552.8,80.8 L553.5,79.2 L554.2,77.4 L554.8,75.3 L555.5,73 L556.2,70.4 L556.8,67.5 L557.5,64.2" fill="none" stroke="#84b630" stroke-width="1.55" stroke-linejoin="round" stroke-linecap="round" />
<path d="M557.5,63 L558.2,54.9 L558.8,48.2 L559.5,42.3 L560.1,36.8 L560.8,31.8 L561.4,27.2 L562.1,23.2 L562.8,20.1 L563.4,18 L564.1,17 L564.7,17.3 L565.4,18.8 L566,21.4 L566.7,25 L567.4,29.2 L568,33.8 L568.7,38.5 L569.3,42.8 L570,46.5 L570.7,49.3 L571.3,51 L572,51.5 L572.6,50.7 L573.3,48.8 L573.9,45.9 L574.6,42.2 L575.3,38 L575.9,33.8 L576.6,29.7 L577.2,26.2 L577.9,23.4 L578.5,21.7 L579.2,21.1 L579.9,21.7 L580.5,23.4 L581.2,26.2 L581.8,29.7 L582.5,33.8 L583.1,38 L583.8,42.2 L584.5,45.9 L585.1,48.8 L585.8,50.7 L586.4,51.5 L587.1,51 L587.7,49.3 L588.4,46.5 L589.1,42.8 L589.7,38.5 L590.4,33.8 L591,29.2 L591.7,25 L592.4,21.4 L593,18.8 L593.7,17.3 L594.3,17 L595,18 L595.6,20.1 L596.3,23.2 L597,27.2 L597.6,31.8 L598.3,36.8 L598.9,42.3 L599.6,48.2 L600.2,54.9 L600.9,63" fill="none" stroke="#84b630" stroke-width="1.55" stroke-linejoin="round" stroke-linecap="round" />
<path d="M600.9,64.2 L601.6,67.5 L602.2,70.4 L602.9,73 L603.5,75.3 L604.2,77.3 L604.8,79.1 L605.5,80.7 L606.2,82.1 L606.8,83.4 L607.5,84.5 L608.1,85.5 L608.8,86.3 L609.5,87.1 L610.1,87.8 L610.8,88.4 L611.4,89 L612.1,89.4 L612.7,89.9 L613.4,90.3 L614.1,90.6 L614.7,90.9 L615.4,91.2 L616,91.4 L616.7,91.6 L617.3,91.8 L618,92 L618.7,92.1 L619.3,92.2 L620,92.3 L620.6,92.4 L621.3,92.5 L622,92.6 L622.6,92.7 L623.3,92.8 L623.9,92.8 L624.6,92.9 L625.2,92.9 L625.9,92.9 L626.6,93 L627.2,93 L627.9,93 L628.5,93.1 L629.2,93.1 L629.8,93.1 L630.5,93.1 L631.2,93.1 L631.8,93.1 L632.5,93.2 L633.1,93.2 L633.8,93.2 L634.4,93.2 L635.1,93.2 L635.8,93.2 L636.4,93.2 L637.1,93.2 L637.7,93.2 L638.4,93.2 L639.1,93.2 L639.7,93.2 L640.4,93.2 L641,93.2 L641.7,93.2 L642.3,93.2 L643,93.2" fill="none" stroke="#84b630" stroke-width="1.55" stroke-linejoin="round" stroke-linecap="round" />
</g>
<rect x="414.5" y="2.5" width="228.5" height="90.8" fill="none" stroke="#6c6c6c" stroke-width="1.05"/>
<line x1="414.5" y1="75.9" x2="417.1" y2="75.9" stroke="#6c6c6c" stroke-width="1" />
<line x1="414.5" y1="57.5" x2="417.1" y2="57.5" stroke="#6c6c6c" stroke-width="1" />
<line x1="414.5" y1="39.1" x2="417.1" y2="39.1" stroke="#6c6c6c" stroke-width="1" />
<line x1="414.5" y1="20.8" x2="417.1" y2="20.8" stroke="#6c6c6c" stroke-width="1" />
<line x1="456.8" y1="93.2" x2="456.8" y2="90.7" stroke="#6c6c6c" stroke-width="1" />
<line x1="456.8" y1="2.5" x2="456.8" y2="5.1" stroke="#6c6c6c" stroke-width="1" />
<line x1="500.2" y1="93.2" x2="500.2" y2="90.7" stroke="#6c6c6c" stroke-width="1" />
<line x1="500.2" y1="2.5" x2="500.2" y2="5.1" stroke="#6c6c6c" stroke-width="1" />
<line x1="528.9" y1="93.2" x2="528.9" y2="90.7" stroke="#6c6c6c" stroke-width="1" />
<line x1="528.9" y1="2.5" x2="528.9" y2="5.1" stroke="#6c6c6c" stroke-width="1" />
<line x1="557.6" y1="93.2" x2="557.6" y2="90.7" stroke="#6c6c6c" stroke-width="1" />
<line x1="557.6" y1="2.5" x2="557.6" y2="5.1" stroke="#6c6c6c" stroke-width="1" />
<line x1="601" y1="93.2" x2="601" y2="90.7" stroke="#6c6c6c" stroke-width="1" />
<line x1="601" y1="2.5" x2="601" y2="5.1" stroke="#6c6c6c" stroke-width="1" />
<text x="410.8" y="5.7" font-size="8.5" text-anchor="end"  >1</text>
<text x="410.8" y="94" font-size="8.5" text-anchor="end"  >0</text>
<text x="421.3" y="19.9" font-size="12.5" text-anchor="start"  >A</text>
<rect x="618" y="8.7" width="50" height="18" fill="#fff"/>
<text x="621" y="21.3" font-size="11.5">n<tspan font-size="8" dy="3">eff</tspan><tspan dy="-3"> =1.24</tspan></text>
<clipPath id="cc1"><rect x="414.5" y="96.5" width="228.5" height="90.7"/></clipPath>
<rect x="456.9" y="96.5" width="43.4" height="90.7" fill="#dfdfdf"/>
<rect x="557.5" y="96.5" width="43.4" height="90.7" fill="#dfdfdf"/>
<g clip-path="url(#cc1)">
<path d="M414.5,185.8 L415.2,185.7 L415.8,185.7 L416.5,185.6 L417.1,185.4 L417.8,185.3 L418.5,185.2 L419.1,185.1 L419.8,184.9 L420.5,184.8 L421.1,184.6 L421.8,184.5 L422.4,184.3 L423.1,184.1 L423.8,183.9 L424.4,183.7 L425.1,183.5 L425.8,183.2 L426.4,183 L427.1,182.7 L427.8,182.4 L428.4,182.1 L429.1,181.7 L429.7,181.4 L430.4,181 L431.1,180.6 L431.7,180.2 L432.4,179.7 L433.1,179.2 L433.7,178.7 L434.4,178.1 L435,177.5 L435.7,176.9 L436.4,176.3 L437,175.5 L437.7,174.8 L438.3,174 L439,173.1 L439.7,172.2 L440.3,171.2 L441,170.2 L441.7,169.1 L442.3,167.9 L443,166.6 L443.6,165.3 L444.3,163.9 L445,162.3 L445.6,160.7 L446.3,159 L447,157.2 L447.6,155.2 L448.3,153.1 L448.9,150.9 L449.6,148.5 L450.3,146 L450.9,143.3 L451.6,140.5 L452.3,137.4 L452.9,134.2 L453.6,130.7 L454.2,127.1 L454.9,123.1 L455.6,119 L456.2,114.5 L456.9,109.8" fill="none" stroke="#f0a028" stroke-width="1.45" stroke-linejoin="round" stroke-linecap="round" />
<path d="M456.9,158.7 L457.6,159.6 L458.2,160.2 L458.9,160.4 L459.5,160.3 L460.2,159.8 L460.8,159 L461.5,158.2 L462.2,157.4 L462.8,156.9 L463.5,156.8 L464.1,157.1 L464.8,157.7 L465.4,158.5 L466.1,159.4 L466.8,160 L467.4,160.4 L468.1,160.4 L468.7,159.9 L469.4,159.2 L470.1,158.4 L470.7,157.6 L471.4,157 L472,156.8 L472.7,157 L473.3,157.6 L474,158.3 L474.7,159.2 L475.3,159.9 L476,160.4 L476.6,160.4 L477.3,160.1 L477.9,159.4 L478.6,158.5 L479.3,157.7 L479.9,157.1 L480.6,156.8 L481.2,156.9 L481.9,157.4 L482.5,158.2 L483.2,159 L483.9,159.8 L484.5,160.3 L485.2,160.4 L485.8,160.2 L486.5,159.6 L487.1,158.7 L487.8,157.9 L488.5,157.2 L489.1,156.8 L489.8,156.9 L490.4,157.3 L491.1,158 L491.8,158.8 L492.4,159.6 L493.1,160.2 L493.7,160.4 L494.4,160.3 L495,159.7 L495.7,158.9 L496.4,158.1 L497,157.4 L497.7,156.9 L498.3,156.8 L499,157.1 L499.6,157.8 L500.3,158.6" fill="none" stroke="#f0a028" stroke-width="1.45" stroke-linejoin="round" stroke-linecap="round" />
<path d="M500.3,109.8 L501,113.5 L501.6,117.1 L502.3,120.5 L503,123.7 L503.6,126.8 L504.3,129.8 L505,132.6 L505.6,135.3 L506.3,137.9 L507,140.4 L507.6,142.7 L508.3,145.2 L508.9,148.2 L509.6,151.6 L510.3,155 L510.9,158.2 L511.6,161.1 L512.3,163.5 L512.9,165.4 L513.6,166.8 L514.3,167.7 L514.9,168.6 L515.6,169.5 L516.3,170.3 L516.9,171.2 L517.6,172 L518.3,172.8 L518.9,173.6 L519.6,174.4 L520.3,175.1 L520.9,175.9 L521.6,176.6 L522.2,177.4 L522.9,178.1 L523.6,178.8 L524.2,179.6 L524.9,180.3 L525.6,181 L526.2,181.7 L526.9,182.4 L527.6,183.1 L528.2,183.8 L528.9,184.5 L529.6,183.8 L530.2,183.1 L530.9,182.4 L531.6,181.7 L532.2,181 L532.9,180.3 L533.6,179.6 L534.2,178.8 L534.9,178.1 L535.6,177.4 L536.2,176.6 L536.9,175.9 L537.5,175.1 L538.2,174.4 L538.9,173.6 L539.5,172.8 L540.2,172 L540.9,171.2 L541.5,170.3 L542.2,169.5 L542.9,168.6 L543.5,167.7 L544.2,166.8 L544.9,165.4 L545.5,163.5 L546.2,161.1 L546.9,158.2 L547.5,155 L548.2,151.6 L548.9,148.2 L549.5,145.2 L550.2,142.7 L550.8,140.4 L551.5,137.9 L552.2,135.3 L552.8,132.6 L553.5,129.8 L554.2,126.8 L554.8,123.7 L555.5,120.5 L556.2,117.1 L556.8,113.5 L557.5,109.8" fill="none" stroke="#f0a028" stroke-width="1.45" stroke-linejoin="round" stroke-linecap="round" />
<path d="M557.5,158.6 L558.2,157.8 L558.8,157.1 L559.5,156.8 L560.1,156.9 L560.8,157.4 L561.4,158.1 L562.1,158.9 L562.8,159.7 L563.4,160.3 L564.1,160.4 L564.7,160.2 L565.4,159.6 L566,158.8 L566.7,158 L567.4,157.3 L568,156.9 L568.7,156.8 L569.3,157.2 L570,157.9 L570.7,158.7 L571.3,159.6 L572,160.2 L572.6,160.4 L573.3,160.3 L573.9,159.8 L574.6,159 L575.3,158.2 L575.9,157.4 L576.6,156.9 L577.2,156.8 L577.9,157.1 L578.5,157.7 L579.2,158.5 L579.9,159.4 L580.5,160.1 L581.2,160.4 L581.8,160.4 L582.5,159.9 L583.1,159.2 L583.8,158.3 L584.5,157.6 L585.1,157 L585.8,156.8 L586.4,157 L587.1,157.6 L587.7,158.4 L588.4,159.2 L589.1,159.9 L589.7,160.4 L590.4,160.4 L591,160 L591.7,159.4 L592.4,158.5 L593,157.7 L593.7,157.1 L594.3,156.8 L595,156.9 L595.6,157.4 L596.3,158.2 L597,159 L597.6,159.8 L598.3,160.3 L598.9,160.4 L599.6,160.2 L600.2,159.6 L600.9,158.7" fill="none" stroke="#f0a028" stroke-width="1.45" stroke-linejoin="round" stroke-linecap="round" />
<path d="M600.9,109.8 L601.6,114.5 L602.2,118.9 L602.9,123.1 L603.5,126.9 L604.2,130.6 L604.8,134 L605.5,137.3 L606.2,140.3 L606.8,143.2 L607.5,145.8 L608.1,148.3 L608.8,150.7 L609.5,152.9 L610.1,155 L610.8,157 L611.4,158.8 L612.1,160.5 L612.7,162.1 L613.4,163.7 L614.1,165.1 L614.7,166.4 L615.4,167.7 L616,168.9 L616.7,170 L617.3,171 L618,172 L618.7,172.9 L619.3,173.8 L620,174.6 L620.6,175.4 L621.3,176.1 L622,176.8 L622.6,177.4 L623.3,178 L623.9,178.6 L624.6,179.1 L625.2,179.6 L625.9,180 L626.6,180.5 L627.2,180.9 L627.9,181.3 L628.5,181.6 L629.2,182 L629.8,182.3 L630.5,182.6 L631.2,182.9 L631.8,183.1 L632.5,183.4 L633.1,183.6 L633.8,183.8 L634.4,184 L635.1,184.2 L635.8,184.4 L636.4,184.6 L637.1,184.7 L637.7,184.9 L638.4,185 L639.1,185.2 L639.7,185.3 L640.4,185.4 L641,185.5 L641.7,185.6 L642.3,185.7 L643,185.8" fill="none" stroke="#f0a028" stroke-width="1.45" stroke-linejoin="round" stroke-linecap="round" />
<path d="M414.5,187.2 L415.2,187.2 L415.8,187.2 L416.5,187.2 L417.1,187.2 L417.8,187.2 L418.5,187.2 L419.1,187.2 L419.8,187.2 L420.5,187.2 L421.1,187.2 L421.8,187.2 L422.4,187.2 L423.1,187.2 L423.8,187.2 L424.4,187.2 L425.1,187.2 L425.8,187.2 L426.4,187.1 L427.1,187.1 L427.8,187.1 L428.4,187.1 L429.1,187.1 L429.7,187.1 L430.4,187.1 L431.1,187 L431.7,187 L432.4,187 L433.1,187 L433.7,186.9 L434.4,186.9 L435,186.8 L435.7,186.8 L436.4,186.7 L437,186.6 L437.7,186.5 L438.3,186.4 L439,186.3 L439.7,186.1 L440.3,186 L441,185.7 L441.7,185.5 L442.3,185.2 L443,184.9 L443.6,184.5 L444.3,184.1 L445,183.6 L445.6,183 L446.3,182.4 L447,181.6 L447.6,180.7 L448.3,179.6 L448.9,178.4 L449.6,176.9 L450.3,175.2 L450.9,173.3 L451.6,171 L452.3,168.4 L452.9,165.4 L453.6,161.8 L454.2,157.7 L454.9,152.9 L455.6,147.3 L456.2,140.8 L456.9,133.3" fill="none" stroke="#4a7ec4" stroke-width="1.35" stroke-linejoin="round" stroke-linecap="round" />
<path d="M456.9,164.5 L457.6,166.5 L458.2,168.3 L458.9,170 L459.5,171.6 L460.2,172.9 L460.8,174.2 L461.5,175.4 L462.2,176.4 L462.8,177.4 L463.5,178.2 L464.1,179 L464.8,179.7 L465.4,180.4 L466.1,180.9 L466.8,181.5 L467.4,181.9 L468.1,182.4 L468.7,182.8 L469.4,183.1 L470.1,183.4 L470.7,183.7 L471.4,184 L472,184.2 L472.7,184.4 L473.3,184.6 L474,184.7 L474.7,184.8 L475.3,184.9 L476,185 L476.6,185.1 L477.3,185.1 L477.9,185.1 L478.6,185.2 L479.3,185.1 L479.9,185.1 L480.6,185.1 L481.2,185 L481.9,184.9 L482.5,184.8 L483.2,184.7 L483.9,184.6 L484.5,184.4 L485.2,184.2 L485.8,184 L486.5,183.7 L487.1,183.4 L487.8,183.1 L488.5,182.8 L489.1,182.4 L489.8,181.9 L490.4,181.5 L491.1,180.9 L491.8,180.4 L492.4,179.7 L493.1,179 L493.7,178.2 L494.4,177.4 L495,176.4 L495.7,175.4 L496.4,174.2 L497,172.9 L497.7,171.6 L498.3,170 L499,168.3 L499.6,166.5 L500.3,164.5" fill="none" stroke="#4a7ec4" stroke-width="1.35" stroke-linejoin="round" stroke-linecap="round" />
<path d="M500.3,133.3 L501,140.9 L501.6,147.4 L502.3,152.9 L503,157.8 L503.6,161.9 L504.3,165.4 L505,168.5 L505.6,171.1 L506.3,173.4 L507,175.3 L507.6,177 L508.3,178.4 L508.9,179.6 L509.6,180.7 L510.3,181.6 L510.9,182.4 L511.6,183.1 L512.3,183.7 L512.9,184.2 L513.6,184.6 L514.3,184.9 L514.9,185.3 L515.6,185.5 L516.3,185.8 L516.9,186 L517.6,186.1 L518.3,186.3 L518.9,186.4 L519.6,186.5 L520.3,186.6 L520.9,186.7 L521.6,186.8 L522.2,186.8 L522.9,186.9 L523.6,186.9 L524.2,187 L524.9,187 L525.6,187 L526.2,187.1 L526.9,187.1 L527.6,187.1 L528.2,187.1 L528.9,187.1 L529.6,187.1 L530.2,187.1 L530.9,187.1 L531.6,187.1 L532.2,187 L532.9,187 L533.6,187 L534.2,186.9 L534.9,186.9 L535.6,186.8 L536.2,186.8 L536.9,186.7 L537.5,186.6 L538.2,186.5 L538.9,186.4 L539.5,186.3 L540.2,186.1 L540.9,186 L541.5,185.8 L542.2,185.5 L542.9,185.3 L543.5,184.9 L544.2,184.6 L544.9,184.2 L545.5,183.7 L546.2,183.1 L546.9,182.4 L547.5,181.6 L548.2,180.7 L548.9,179.6 L549.5,178.4 L550.2,177 L550.8,175.3 L551.5,173.4 L552.2,171.1 L552.8,168.5 L553.5,165.4 L554.2,161.9 L554.8,157.8 L555.5,152.9 L556.2,147.4 L556.8,140.9 L557.5,133.3" fill="none" stroke="#4a7ec4" stroke-width="1.35" stroke-linejoin="round" stroke-linecap="round" />
<path d="M557.5,164.5 L558.2,166.5 L558.8,168.3 L559.5,170 L560.1,171.6 L560.8,172.9 L561.4,174.2 L562.1,175.4 L562.8,176.4 L563.4,177.4 L564.1,178.2 L564.7,179 L565.4,179.7 L566,180.4 L566.7,180.9 L567.4,181.5 L568,181.9 L568.7,182.4 L569.3,182.8 L570,183.1 L570.7,183.4 L571.3,183.7 L572,184 L572.6,184.2 L573.3,184.4 L573.9,184.6 L574.6,184.7 L575.3,184.8 L575.9,184.9 L576.6,185 L577.2,185.1 L577.9,185.1 L578.5,185.1 L579.2,185.2 L579.9,185.1 L580.5,185.1 L581.2,185.1 L581.8,185 L582.5,184.9 L583.1,184.8 L583.8,184.7 L584.5,184.6 L585.1,184.4 L585.8,184.2 L586.4,184 L587.1,183.7 L587.7,183.4 L588.4,183.1 L589.1,182.8 L589.7,182.4 L590.4,181.9 L591,181.5 L591.7,180.9 L592.4,180.4 L593,179.7 L593.7,179 L594.3,178.2 L595,177.4 L595.6,176.4 L596.3,175.4 L597,174.2 L597.6,172.9 L598.3,171.6 L598.9,170 L599.6,168.3 L600.2,166.5 L600.9,164.5" fill="none" stroke="#4a7ec4" stroke-width="1.35" stroke-linejoin="round" stroke-linecap="round" />
<path d="M600.9,133.3 L601.6,140.8 L602.2,147.2 L602.9,152.8 L603.5,157.6 L604.2,161.7 L604.8,165.2 L605.5,168.3 L606.2,170.9 L606.8,173.2 L607.5,175.1 L608.1,176.8 L608.8,178.2 L609.5,179.5 L610.1,180.6 L610.8,181.5 L611.4,182.3 L612.1,183 L612.7,183.5 L613.4,184.1 L614.1,184.5 L614.7,184.9 L615.4,185.2 L616,185.5 L616.7,185.7 L617.3,185.9 L618,186.1 L618.7,186.2 L619.3,186.4 L620,186.5 L620.6,186.6 L621.3,186.7 L622,186.7 L622.6,186.8 L623.3,186.9 L623.9,186.9 L624.6,187 L625.2,187 L625.9,187 L626.6,187 L627.2,187.1 L627.9,187.1 L628.5,187.1 L629.2,187.1 L629.8,187.1 L630.5,187.1 L631.2,187.1 L631.8,187.2 L632.5,187.2 L633.1,187.2 L633.8,187.2 L634.4,187.2 L635.1,187.2 L635.8,187.2 L636.4,187.2 L637.1,187.2 L637.7,187.2 L638.4,187.2 L639.1,187.2 L639.7,187.2 L640.4,187.2 L641,187.2 L641.7,187.2 L642.3,187.2 L643,187.2" fill="none" stroke="#4a7ec4" stroke-width="1.35" stroke-linejoin="round" stroke-linecap="round" />
<path d="M414.5,186.3 L415.2,186.1 L415.8,186 L416.5,185.9 L417.1,185.8 L417.8,185.6 L418.5,185.5 L419.1,185.3 L419.8,185.2 L420.5,185 L421.1,184.8 L421.8,184.5 L422.4,184.3 L423.1,184 L423.8,183.7 L424.4,183.4 L425.1,183.1 L425.8,182.7 L426.4,182.4 L427.1,182 L427.8,181.6 L428.4,181.1 L429.1,180.7 L429.7,180.2 L430.4,179.7 L431.1,179.2 L431.7,178.6 L432.4,178 L433.1,177.5 L433.7,176.9 L434.4,176.3 L435,175.7 L435.7,175 L436.4,174.4 L437,173.7 L437.7,173.1 L438.3,172.4 L439,171.6 L439.7,170.9 L440.3,170.1 L441,169.3 L441.7,168.5 L442.3,167.6 L443,166.6 L443.6,165.5 L444.3,164.4 L445,163.3 L445.6,162 L446.3,160.6 L447,159.2 L447.6,157.6 L448.3,156.1 L448.9,154.6 L449.6,153.1 L450.3,151.8 L450.9,150.7 L451.6,149.6 L452.3,148.6 L452.9,147.7 L453.6,146.8 L454.2,145.9 L454.9,145.2 L455.6,144.5 L456.2,143.8 L456.9,143.2" fill="none" stroke="#84b630" stroke-width="1.55" stroke-linejoin="round" stroke-linecap="round" />
<path d="M456.9,143.2 L457.6,143.1 L458.2,143.6 L458.9,144.4 L459.5,145.8 L460.2,147.6 L460.8,149.6 L461.5,151.5 L462.2,153.1 L462.8,154.5 L463.5,155.7 L464.1,156.9 L464.8,158.1 L465.4,159.1 L466.1,160 L466.8,160.7 L467.4,161.4 L468.1,161.9 L468.7,162.4 L469.4,162.8 L470.1,163.2 L470.7,163.4 L471.4,163.6 L472,163.6 L472.7,163.4 L473.3,162.9 L474,162.2 L474.7,161.4 L475.3,160.6 L476,159.9 L476.6,159.4 L477.3,159 L477.9,158.7 L478.6,158.6 L479.3,158.7 L479.9,159 L480.6,159.4 L481.2,159.9 L481.9,160.6 L482.5,161.4 L483.2,162.2 L483.9,162.9 L484.5,163.4 L485.2,163.6 L485.8,163.6 L486.5,163.4 L487.1,163.2 L487.8,162.8 L488.5,162.4 L489.1,161.9 L489.8,161.4 L490.4,160.7 L491.1,160 L491.8,159.1 L492.4,158.1 L493.1,156.9 L493.7,155.7 L494.4,154.5 L495,153.1 L495.7,151.5 L496.4,149.6 L497,147.6 L497.7,145.8 L498.3,144.4 L499,143.6 L499.6,143.1 L500.3,143.2" fill="none" stroke="#84b630" stroke-width="1.55" stroke-linejoin="round" stroke-linecap="round" />
<path d="M500.3,143.2 L501,144.7 L501.6,146.2 L502.3,147.6 L503,149 L503.6,150.3 L504.3,151.7 L505,152.9 L505.6,154.2 L506.3,155.4 L507,156.6 L507.6,157.7 L508.3,158.8 L508.9,159.9 L509.6,161 L510.3,162 L510.9,163 L511.6,164 L512.3,165 L512.9,165.9 L513.6,166.8 L514.3,167.7 L514.9,168.6 L515.6,169.5 L516.3,170.3 L516.9,171.2 L517.6,172 L518.3,172.8 L518.9,173.6 L519.6,174.4 L520.3,175.1 L520.9,175.9 L521.6,176.6 L522.2,177.4 L522.9,178.1 L523.6,178.8 L524.2,179.6 L524.9,180.3 L525.6,181 L526.2,181.7 L526.9,182.4 L527.6,183.1 L528.2,183.8 L528.9,184.5 L529.6,183.8 L530.2,183.1 L530.9,182.4 L531.6,181.7 L532.2,181 L532.9,180.3 L533.6,179.6 L534.2,178.8 L534.9,178.1 L535.6,177.4 L536.2,176.6 L536.9,175.9 L537.5,175.1 L538.2,174.4 L538.9,173.6 L539.5,172.8 L540.2,172 L540.9,171.2 L541.5,170.3 L542.2,169.5 L542.9,168.6 L543.5,167.7 L544.2,166.8 L544.9,165.9 L545.5,165 L546.2,164 L546.9,163 L547.5,162 L548.2,161 L548.9,159.9 L549.5,158.8 L550.2,157.7 L550.8,156.6 L551.5,155.4 L552.2,154.2 L552.8,152.9 L553.5,151.7 L554.2,150.3 L554.8,149 L555.5,147.6 L556.2,146.2 L556.8,144.7 L557.5,143.2" fill="none" stroke="#84b630" stroke-width="1.55" stroke-linejoin="round" stroke-linecap="round" />
<path d="M557.5,143.2 L558.2,143.1 L558.8,143.6 L559.5,144.4 L560.1,145.8 L560.8,147.6 L561.4,149.6 L562.1,151.5 L562.8,153.1 L563.4,154.5 L564.1,155.7 L564.7,156.9 L565.4,158.1 L566,159.1 L566.7,160 L567.4,160.7 L568,161.4 L568.7,161.9 L569.3,162.4 L570,162.8 L570.7,163.2 L571.3,163.4 L572,163.6 L572.6,163.6 L573.3,163.4 L573.9,162.9 L574.6,162.2 L575.3,161.4 L575.9,160.6 L576.6,159.9 L577.2,159.4 L577.9,159 L578.5,158.7 L579.2,158.6 L579.9,158.7 L580.5,159 L581.2,159.4 L581.8,159.9 L582.5,160.6 L583.1,161.4 L583.8,162.2 L584.5,162.9 L585.1,163.4 L585.8,163.6 L586.4,163.6 L587.1,163.4 L587.7,163.2 L588.4,162.8 L589.1,162.4 L589.7,161.9 L590.4,161.4 L591,160.7 L591.7,160 L592.4,159.1 L593,158.1 L593.7,156.9 L594.3,155.7 L595,154.5 L595.6,153.1 L596.3,151.5 L597,149.6 L597.6,147.6 L598.3,145.8 L598.9,144.4 L599.6,143.6 L600.2,143.1 L600.9,143.2" fill="none" stroke="#84b630" stroke-width="1.55" stroke-linejoin="round" stroke-linecap="round" />
<path d="M600.9,143.2 L601.6,143.8 L602.2,144.5 L602.9,145.1 L603.5,145.9 L604.2,146.7 L604.8,147.6 L605.5,148.5 L606.2,149.5 L606.8,150.6 L607.5,151.8 L608.1,153 L608.8,154.5 L609.5,156 L610.1,157.5 L610.8,159 L611.4,160.5 L612.1,161.9 L612.7,163.1 L613.4,164.3 L614.1,165.4 L614.7,166.4 L615.4,167.4 L616,168.3 L616.7,169.2 L617.3,170 L618,170.8 L618.7,171.5 L619.3,172.2 L620,172.9 L620.6,173.6 L621.3,174.2 L622,174.9 L622.6,175.5 L623.3,176.1 L623.9,176.7 L624.6,177.3 L625.2,177.9 L625.9,178.5 L626.6,179 L627.2,179.5 L627.9,180.1 L628.5,180.5 L629.2,181 L629.8,181.5 L630.5,181.9 L631.2,182.3 L631.8,182.6 L632.5,183 L633.1,183.3 L633.8,183.6 L634.4,183.9 L635.1,184.2 L635.8,184.4 L636.4,184.7 L637.1,184.9 L637.7,185.1 L638.4,185.3 L639.1,185.4 L639.7,185.6 L640.4,185.7 L641,185.8 L641.7,186 L642.3,186.1 L643,186.2" fill="none" stroke="#84b630" stroke-width="1.55" stroke-linejoin="round" stroke-linecap="round" />
</g>
<rect x="414.5" y="96.5" width="228.5" height="90.7" fill="none" stroke="#6c6c6c" stroke-width="1.05"/>
<line x1="414.5" y1="169.9" x2="417.1" y2="169.9" stroke="#6c6c6c" stroke-width="1" />
<line x1="414.5" y1="151.5" x2="417.1" y2="151.5" stroke="#6c6c6c" stroke-width="1" />
<line x1="414.5" y1="133.1" x2="417.1" y2="133.1" stroke="#6c6c6c" stroke-width="1" />
<line x1="414.5" y1="114.7" x2="417.1" y2="114.7" stroke="#6c6c6c" stroke-width="1" />
<line x1="456.8" y1="187.2" x2="456.8" y2="184.6" stroke="#6c6c6c" stroke-width="1" />
<line x1="456.8" y1="96.5" x2="456.8" y2="99" stroke="#6c6c6c" stroke-width="1" />
<line x1="500.2" y1="187.2" x2="500.2" y2="184.6" stroke="#6c6c6c" stroke-width="1" />
<line x1="500.2" y1="96.5" x2="500.2" y2="99" stroke="#6c6c6c" stroke-width="1" />
<line x1="528.9" y1="187.2" x2="528.9" y2="184.6" stroke="#6c6c6c" stroke-width="1" />
<line x1="528.9" y1="96.5" x2="528.9" y2="99" stroke="#6c6c6c" stroke-width="1" />
<line x1="557.6" y1="187.2" x2="557.6" y2="184.6" stroke="#6c6c6c" stroke-width="1" />
<line x1="557.6" y1="96.5" x2="557.6" y2="99" stroke="#6c6c6c" stroke-width="1" />
<line x1="601" y1="187.2" x2="601" y2="184.6" stroke="#6c6c6c" stroke-width="1" />
<line x1="601" y1="96.5" x2="601" y2="99" stroke="#6c6c6c" stroke-width="1" />
<text x="410.8" y="101.9" font-size="8.5" text-anchor="end"  >1</text>
<text x="410.8" y="187.9" font-size="8.5" text-anchor="end"  >0</text>
<text x="421.3" y="113.6" font-size="12.5" text-anchor="start"  >B</text>
<rect x="618" y="104.8" width="50" height="18" fill="#fff"/>
<text x="621" y="117.4" font-size="11.5">n<tspan font-size="8" dy="3">eff</tspan><tspan dy="-3"> =1.05</tspan></text>
<clipPath id="cc2"><rect x="414.5" y="190.4" width="228.5" height="91"/></clipPath>
<rect x="456.9" y="190.4" width="43.4" height="91" fill="#dfdfdf"/>
<rect x="557.5" y="190.4" width="43.4" height="91" fill="#dfdfdf"/>
<g clip-path="url(#cc2)">
<path d="M414.5,213.4 L415.2,213.7 L415.8,214.1 L416.5,214.5 L417.1,214.9 L417.8,215.2 L418.5,215.6 L419.1,216 L419.8,216.3 L420.5,216.7 L421.1,217.1 L421.8,217.4 L422.4,217.8 L423.1,218.2 L423.8,218.5 L424.4,218.9 L425.1,219.2 L425.8,219.6 L426.4,220 L427.1,220.3 L427.8,220.7 L428.4,221 L429.1,221.4 L429.7,221.8 L430.4,222.1 L431.1,222.5 L431.7,222.8 L432.4,223.2 L433.1,223.5 L433.7,223.9 L434.4,224.2 L435,224.5 L435.7,224.9 L436.4,225.2 L437,225.6 L437.7,225.9 L438.3,226.3 L439,226.6 L439.7,226.9 L440.3,227.3 L441,227.6 L441.7,227.9 L442.3,228.3 L443,228.6 L443.6,228.9 L444.3,229.2 L445,229.6 L445.6,229.9 L446.3,230.2 L447,230.5 L447.6,230.8 L448.3,231.1 L448.9,231.4 L449.6,231.7 L450.3,232 L450.9,232.3 L451.6,232.6 L452.3,232.9 L452.9,233.2 L453.6,233.5 L454.2,233.8 L454.9,234 L455.6,234.3 L456.2,234.5 L456.9,234.7" fill="none" stroke="#f0a028" stroke-width="1.45" stroke-linejoin="round" stroke-linecap="round" />
<path d="M456.9,236.8 L457.6,237.8 L458.2,239 L458.9,240 L459.5,240.7 L460.2,241 L460.8,240.9 L461.5,240.3 L462.2,239.4 L462.8,238.4 L463.5,237.4 L464.1,236.7 L464.8,236.4 L465.4,236.5 L466.1,237.1 L466.8,238.1 L467.4,239.2 L468.1,240.3 L468.7,241.2 L469.4,241.8 L470.1,241.9 L470.7,241.6 L471.4,240.9 L472,239.9 L472.7,238.9 L473.3,238 L474,237.4 L474.7,237.3 L475.3,237.6 L476,238.4 L476.6,239.4 L477.3,240.6 L477.9,241.6 L478.6,242.4 L479.3,242.8 L479.9,242.8 L480.6,242.2 L481.2,241.4 L481.9,240.4 L482.5,239.4 L483.2,238.6 L483.9,238.2 L484.5,238.3 L485.2,238.8 L485.8,239.7 L486.5,240.8 L487.1,241.9 L487.8,242.9 L488.5,243.5 L489.1,243.8 L489.8,243.5 L490.4,242.8 L491.1,241.9 L491.8,240.9 L492.4,240 L493.1,239.3 L493.7,239.1 L494.4,239.3 L495,240 L495.7,241 L496.4,242.2 L497,243.3 L497.7,244.1 L498.3,244.6 L499,244.6 L499.6,244.2 L500.3,243.4" fill="none" stroke="#f0a028" stroke-width="1.45" stroke-linejoin="round" stroke-linecap="round" />
<path d="M500.3,229.5 L501,231.5 L501.6,233.4 L502.3,235.4 L503,237.3 L503.6,239.3 L504.3,241.8 L505,244.3 L505.6,246.2 L506.3,246.4 L507,244.2 L507.6,240.6 L508.3,237.3 L508.9,235.1 L509.6,233.2 L510.3,232.9 L510.9,231.2 L511.6,229.7 L512.3,228.3 L512.9,226.7 L513.6,224.8 L514.3,222.6 L514.9,220.5 L515.6,218.6 L516.3,217.2 L516.9,216.5 L517.6,216.5 L518.3,217.1 L518.9,218.1 L519.6,219.4 L520.3,220.9 L520.9,222.5 L521.6,224.4 L522.2,226.3 L522.9,228.6 L523.6,231.5 L524.2,235 L524.9,238.6 L525.6,241.9 L526.2,244.3 L526.9,246 L527.6,247.4 L528.2,248.6 L528.9,249.7 L529.6,248.6 L530.2,247.4 L530.9,246 L531.6,244.3 L532.2,241.9 L532.9,238.6 L533.6,235 L534.2,231.5 L534.9,228.6 L535.6,226.3 L536.2,224.4 L536.9,222.5 L537.5,220.9 L538.2,219.4 L538.9,218.1 L539.5,217.1 L540.2,216.5 L540.9,216.5 L541.5,217.2 L542.2,218.6 L542.9,220.5 L543.5,222.6 L544.2,224.8 L544.9,226.7 L545.5,228.3 L546.2,229.7 L546.9,231.2 L547.5,232.9 L548.2,233.2 L548.9,235.1 L549.5,237.3 L550.2,240.6 L550.8,244.2 L551.5,246.4 L552.2,246.2 L552.8,244.3 L553.5,241.8 L554.2,239.3 L554.8,237.3 L555.5,235.4 L556.2,233.4 L556.8,231.5 L557.5,229.5" fill="none" stroke="#f0a028" stroke-width="1.45" stroke-linejoin="round" stroke-linecap="round" />
<path d="M557.5,243.4 L558.2,244.2 L558.8,244.6 L559.5,244.6 L560.1,244.1 L560.8,243.3 L561.4,242.2 L562.1,241 L562.8,240 L563.4,239.3 L564.1,239.1 L564.7,239.3 L565.4,240 L566,240.9 L566.7,241.9 L567.4,242.8 L568,243.5 L568.7,243.8 L569.3,243.5 L570,242.9 L570.7,241.9 L571.3,240.8 L572,239.7 L572.6,238.8 L573.3,238.3 L573.9,238.2 L574.6,238.6 L575.3,239.4 L575.9,240.4 L576.6,241.4 L577.2,242.2 L577.9,242.8 L578.5,242.8 L579.2,242.4 L579.9,241.6 L580.5,240.6 L581.2,239.4 L581.8,238.4 L582.5,237.6 L583.1,237.3 L583.8,237.4 L584.5,238 L585.1,238.9 L585.8,239.9 L586.4,240.9 L587.1,241.6 L587.7,241.9 L588.4,241.8 L589.1,241.2 L589.7,240.3 L590.4,239.2 L591,238.1 L591.7,237.1 L592.4,236.5 L593,236.4 L593.7,236.7 L594.3,237.4 L595,238.4 L595.6,239.4 L596.3,240.3 L597,240.9 L597.6,241 L598.3,240.7 L598.9,240 L599.6,239 L600.2,237.8 L600.9,236.8" fill="none" stroke="#f0a028" stroke-width="1.45" stroke-linejoin="round" stroke-linecap="round" />
<path d="M600.9,234.7 L601.6,234.5 L602.2,234.3 L602.9,234 L603.5,233.8 L604.2,233.5 L604.8,233.2 L605.5,232.9 L606.2,232.7 L606.8,232.4 L607.5,232.1 L608.1,231.8 L608.8,231.5 L609.5,231.2 L610.1,230.9 L610.8,230.5 L611.4,230.2 L612.1,229.9 L612.7,229.6 L613.4,229.3 L614.1,229 L614.7,228.6 L615.4,228.3 L616,228 L616.7,227.7 L617.3,227.3 L618,227 L618.7,226.7 L619.3,226.3 L620,226 L620.6,225.7 L621.3,225.3 L622,225 L622.6,224.6 L623.3,224.3 L623.9,223.9 L624.6,223.6 L625.2,223.3 L625.9,222.9 L626.6,222.6 L627.2,222.2 L627.9,221.9 L628.5,221.5 L629.2,221.1 L629.8,220.8 L630.5,220.4 L631.2,220.1 L631.8,219.7 L632.5,219.4 L633.1,219 L633.8,218.7 L634.4,218.3 L635.1,217.9 L635.8,217.6 L636.4,217.2 L637.1,216.8 L637.7,216.5 L638.4,216.1 L639.1,215.7 L639.7,215.4 L640.4,215 L641,214.6 L641.7,214.3 L642.3,213.9 L643,213.5" fill="none" stroke="#f0a028" stroke-width="1.45" stroke-linejoin="round" stroke-linecap="round" />
<path d="M414.5,-154151.5 L415.2,-135338.7 L415.8,-118817.7 L416.5,-104309.2 L417.1,-91568.1 L417.8,-80379.2 L418.5,-70553.2 L419.1,-61924.3 L419.8,-54346.5 L420.5,-47691.8 L421.1,-41847.8 L421.8,-36715.6 L422.4,-32208.7 L423.1,-28250.8 L423.8,-24775.1 L424.4,-21722.7 L425.1,-19042.2 L425.8,-16688.2 L426.4,-14621 L427.1,-12805.6 L427.8,-11211.4 L428.4,-9811.4 L429.1,-8581.9 L429.7,-7502.2 L430.4,-6554 L431.1,-5721.3 L431.7,-4990.1 L432.4,-4347.9 L433.1,-3784 L433.7,-3288.7 L434.4,-2853.8 L435,-2471.9 L435.7,-2136.5 L436.4,-1841.9 L437,-1583.3 L437.7,-1356.1 L438.3,-1156.7 L439,-981.5 L439.7,-827.6 L440.3,-692.5 L441,-573.9 L441.7,-469.7 L442.3,-378.2 L443,-297.8 L443.6,-227.3 L444.3,-165.3 L445,-110.9 L445.6,-63.1 L446.3,-21.1 L447,15.7 L447.6,48.1 L448.3,76.5 L448.9,101.5 L449.6,123.4 L450.3,142.6 L450.9,159.5 L451.6,174.4 L452.3,187.4 L452.9,198.9 L453.6,208.9 L454.2,217.8 L454.9,225.5 L455.6,232.3 L456.2,238.3 L456.9,243.5" fill="none" stroke="#4a7ec4" stroke-width="1.35" stroke-linejoin="round" stroke-linecap="round" />
<path d="M456.9,261.5 L457.6,262.4 L458.2,263.2 L458.9,264.1 L459.5,264.8 L460.2,265.6 L460.8,266.3 L461.5,267 L462.2,267.7 L462.8,268.3 L463.5,269 L464.1,269.5 L464.8,270.1 L465.4,270.6 L466.1,271.1 L466.8,271.5 L467.4,271.9 L468.1,272.3 L468.7,272.7 L469.4,273 L470.1,273.3 L470.7,273.5 L471.4,273.8 L472,274 L472.7,274.1 L473.3,274.3 L474,274.4 L474.7,274.4 L475.3,274.5 L476,274.5 L476.6,274.5 L477.3,274.4 L477.9,274.3 L478.6,274.2 L479.3,274 L479.9,273.9 L480.6,273.7 L481.2,273.4 L481.9,273.1 L482.5,272.8 L483.2,272.5 L483.9,272.1 L484.5,271.7 L485.2,271.3 L485.8,270.8 L486.5,270.3 L487.1,269.8 L487.8,269.2 L488.5,268.6 L489.1,268 L489.8,267.4 L490.4,266.7 L491.1,266 L491.8,265.2 L492.4,264.4 L493.1,263.6 L493.7,262.8 L494.4,261.9 L495,261 L495.7,260.1 L496.4,259.1 L497,258.1 L497.7,257.1 L498.3,256 L499,254.9 L499.6,253.8 L500.3,252.6" fill="none" stroke="#4a7ec4" stroke-width="1.35" stroke-linejoin="round" stroke-linecap="round" />
<path d="M500.3,254.8 L501,255.5 L501.6,256.6 L502.3,257.9 L503,259.5 L503.6,261.1 L504.3,262.7 L505,264.4 L505.6,266 L506.3,267.5 L507,268.9 L507.6,270.3 L508.3,271.6 L508.9,272.8 L509.6,273.8 L510.3,274.8 L510.9,275.7 L511.6,276.4 L512.3,277.1 L512.9,277.8 L513.6,278.3 L514.3,278.8 L514.9,279.2 L515.6,279.5 L516.3,279.8 L516.9,280.1 L517.6,280.3 L518.3,280.5 L518.9,280.6 L519.6,280.8 L520.3,280.9 L520.9,281 L521.6,281.1 L522.2,281.1 L522.9,281.2 L523.6,281.2 L524.2,281.3 L524.9,281.3 L525.6,281.3 L526.2,281.3 L526.9,281.3 L527.6,281.4 L528.2,281.4 L528.9,281.4 L529.6,281.4 L530.2,281.4 L530.9,281.3 L531.6,281.3 L532.2,281.3 L532.9,281.3 L533.6,281.3 L534.2,281.2 L534.9,281.2 L535.6,281.1 L536.2,281.1 L536.9,281 L537.5,280.9 L538.2,280.8 L538.9,280.6 L539.5,280.5 L540.2,280.3 L540.9,280.1 L541.5,279.8 L542.2,279.5 L542.9,279.2 L543.5,278.8 L544.2,278.3 L544.9,277.8 L545.5,277.1 L546.2,276.4 L546.9,275.7 L547.5,274.8 L548.2,273.8 L548.9,272.8 L549.5,271.6 L550.2,270.3 L550.8,268.9 L551.5,267.5 L552.2,266 L552.8,264.4 L553.5,262.7 L554.2,261.1 L554.8,259.5 L555.5,257.9 L556.2,256.6 L556.8,255.5 L557.5,254.8" fill="none" stroke="#4a7ec4" stroke-width="1.35" stroke-linejoin="round" stroke-linecap="round" />
<path d="M557.5,252.6 L558.2,253.8 L558.8,254.9 L559.5,256 L560.1,257.1 L560.8,258.1 L561.4,259.1 L562.1,260.1 L562.8,261 L563.4,261.9 L564.1,262.8 L564.7,263.6 L565.4,264.4 L566,265.2 L566.7,266 L567.4,266.7 L568,267.4 L568.7,268 L569.3,268.6 L570,269.2 L570.7,269.8 L571.3,270.3 L572,270.8 L572.6,271.3 L573.3,271.7 L573.9,272.1 L574.6,272.5 L575.3,272.8 L575.9,273.1 L576.6,273.4 L577.2,273.7 L577.9,273.9 L578.5,274 L579.2,274.2 L579.9,274.3 L580.5,274.4 L581.2,274.5 L581.8,274.5 L582.5,274.5 L583.1,274.4 L583.8,274.4 L584.5,274.3 L585.1,274.1 L585.8,274 L586.4,273.8 L587.1,273.5 L587.7,273.3 L588.4,273 L589.1,272.7 L589.7,272.3 L590.4,271.9 L591,271.5 L591.7,271.1 L592.4,270.6 L593,270.1 L593.7,269.5 L594.3,269 L595,268.3 L595.6,267.7 L596.3,267 L597,266.3 L597.6,265.6 L598.3,264.8 L598.9,264.1 L599.6,263.2 L600.2,262.4 L600.9,261.5" fill="none" stroke="#4a7ec4" stroke-width="1.35" stroke-linejoin="round" stroke-linecap="round" />
<path d="M600.9,243.5 L601.6,238.3 L602.2,232.4 L602.9,225.7 L603.5,218 L604.2,209.3 L604.8,199.3 L605.5,188 L606.2,175.2 L606.8,160.5 L607.5,143.9 L608.1,125 L608.8,103.4 L609.5,78.9 L610.1,51.1 L610.8,19.4 L611.4,-16.7 L612.1,-57.8 L612.7,-104.5 L613.4,-157.6 L614.1,-218 L614.7,-286.8 L615.4,-365 L616,-454 L616.7,-555.2 L617.3,-670.4 L618,-801.4 L618.7,-950.5 L619.3,-1120.1 L620,-1313.1 L620.6,-1532.6 L621.3,-1782.3 L622,-2066.4 L622.6,-2389.6 L623.3,-2757.4 L623.9,-3175.7 L624.6,-3651.7 L625.2,-4193.1 L625.9,-4809.1 L626.6,-5509.9 L627.2,-6307.2 L627.9,-7214.3 L628.5,-8246.2 L629.2,-9420.3 L629.8,-10755.9 L630.5,-12275.4 L631.2,-14004.1 L631.8,-15970.8 L632.5,-18208.2 L633.1,-20753.7 L633.8,-23649.6 L634.4,-26944.2 L635.1,-30692.4 L635.8,-34956.6 L636.4,-39807.8 L637.1,-45326.9 L637.7,-51605.9 L638.4,-58749.2 L639.1,-66876 L639.7,-76121.6 L640.4,-86640 L641,-98606.6 L641.7,-112220.5 L642.3,-127708.8 L643,-145329.2" fill="none" stroke="#4a7ec4" stroke-width="1.35" stroke-linejoin="round" stroke-linecap="round" />
<path d="M414.5,-154151.5 L415.2,-135338.7 L415.8,-118817.7 L416.5,-104309.2 L417.1,-91568.1 L417.8,-80379.2 L418.5,-70553.2 L419.1,-61924.3 L419.8,-54346.5 L420.5,-47691.8 L421.1,-41847.8 L421.8,-36715.6 L422.4,-32208.7 L423.1,-28250.8 L423.8,-24775.1 L424.4,-21722.7 L425.1,-19042.2 L425.8,-16688.2 L426.4,-14621 L427.1,-12805.6 L427.8,-11211.4 L428.4,-9811.4 L429.1,-8581.9 L429.7,-7502.2 L430.4,-6554 L431.1,-5721.3 L431.7,-4990.1 L432.4,-4347.9 L433.1,-3784 L433.7,-3288.7 L434.4,-2853.8 L435,-2471.9 L435.7,-2136.5 L436.4,-1841.9 L437,-1583.3 L437.7,-1356.1 L438.3,-1156.7 L439,-981.5 L439.7,-827.6 L440.3,-692.5 L441,-573.9 L441.7,-469.7 L442.3,-378.2 L443,-297.8 L443.6,-227.3 L444.3,-165.3 L445,-110.9 L445.6,-63.1 L446.3,-21.1 L447,15.7 L447.6,48.1 L448.3,76.5 L448.9,101.5 L449.6,123.4 L450.3,142.6 L450.9,159.5 L451.6,174.4 L452.3,187.4 L452.9,198.9 L453.6,208.9 L454.2,217.8 L454.9,225.5 L455.6,232.3 L456.2,238.3 L456.9,243.5" fill="none" stroke="#84b630" stroke-width="1.55" stroke-linejoin="round" stroke-linecap="round" />
<path d="M456.9,243.5 L457.6,245.1 L458.2,245 L458.9,243.9 L459.5,242.6 L460.2,241.1 L460.8,239.7 L461.5,238.3 L462.2,237 L462.8,235.7 L463.5,234.3 L464.1,233.2 L464.8,232.4 L465.4,232.2 L466.1,232.7 L466.8,233.6 L467.4,234.5 L468.1,235.3 L468.7,236.1 L469.4,236.8 L470.1,237.4 L470.7,237.4 L471.4,236.9 L472,236.2 L472.7,235.5 L473.3,234.7 L474,233.9 L474.7,233.6 L475.3,233.8 L476,234.3 L476.6,235.1 L477.3,236 L477.9,237.1 L478.6,238.4 L479.3,239.9 L479.9,241.4 L480.6,242.9 L481.2,244.1 L481.9,245.1 L482.5,245.9 L483.2,246.7 L483.9,247.9 L484.5,249.6 L485.2,250.7 L485.8,250.7 L486.5,249.7 L487.1,247.9 L487.8,245.6 L488.5,243.2 L489.1,240.6 L489.8,238 L490.4,235.4 L491.1,233 L491.8,230.1 L492.4,226.9 L493.1,224.1 L493.7,222.1 L494.4,221.5 L495,222 L495.7,223.3 L496.4,225.2 L497,227.5 L497.7,229.9 L498.3,232.8 L499,236.5 L499.6,240.7 L500.3,245" fill="none" stroke="#84b630" stroke-width="1.55" stroke-linejoin="round" stroke-linecap="round" />
<path d="M500.3,245 L501,248.2 L501.6,251.2 L502.3,253.9 L503,256.4 L503.6,257.1 L504.3,256.5 L505,255.2 L505.6,253.3 L506.3,251 L507,247.9 L507.6,244.2 L508.3,240.6 L508.9,237.3 L509.6,234.8 L510.3,232.9 L510.9,231.2 L511.6,229.7 L512.3,228.3 L512.9,226.7 L513.6,224.8 L514.3,222.6 L514.9,220.5 L515.6,218.6 L516.3,217.2 L516.9,216.5 L517.6,216.5 L518.3,217.1 L518.9,218.1 L519.6,219.4 L520.3,220.9 L520.9,222.5 L521.6,224.4 L522.2,226.3 L522.9,228.6 L523.6,231.5 L524.2,235 L524.9,238.6 L525.6,241.9 L526.2,244.3 L526.9,246 L527.6,247.4 L528.2,248.6 L528.9,249.7 L529.6,248.6 L530.2,247.4 L530.9,246 L531.6,244.3 L532.2,241.9 L532.9,238.6 L533.6,235 L534.2,231.5 L534.9,228.6 L535.6,226.3 L536.2,224.4 L536.9,222.5 L537.5,220.9 L538.2,219.4 L538.9,218.1 L539.5,217.1 L540.2,216.5 L540.9,216.5 L541.5,217.2 L542.2,218.6 L542.9,220.5 L543.5,222.6 L544.2,224.8 L544.9,226.7 L545.5,228.3 L546.2,229.7 L546.9,231.2 L547.5,232.9 L548.2,234.8 L548.9,237.3 L549.5,240.6 L550.2,244.2 L550.8,247.9 L551.5,251 L552.2,253.3 L552.8,255.2 L553.5,256.5 L554.2,257.1 L554.8,256.4 L555.5,253.9 L556.2,251.2 L556.8,248.2 L557.5,245" fill="none" stroke="#84b630" stroke-width="1.55" stroke-linejoin="round" stroke-linecap="round" />
<path d="M557.5,245 L558.2,240.7 L558.8,236.5 L559.5,232.8 L560.1,229.9 L560.8,227.5 L561.4,225.2 L562.1,223.3 L562.8,222 L563.4,221.5 L564.1,222.1 L564.7,224.1 L565.4,226.9 L566,230.1 L566.7,233 L567.4,235.4 L568,238 L568.7,240.6 L569.3,243.2 L570,245.6 L570.7,247.9 L571.3,249.7 L572,250.7 L572.6,250.7 L573.3,249.6 L573.9,247.9 L574.6,246.7 L575.3,245.9 L575.9,245.1 L576.6,244.1 L577.2,242.9 L577.9,241.4 L578.5,239.9 L579.2,238.4 L579.9,237.1 L580.5,236 L581.2,235.1 L581.8,234.3 L582.5,233.8 L583.1,233.6 L583.8,233.9 L584.5,234.7 L585.1,235.5 L585.8,236.2 L586.4,236.9 L587.1,237.4 L587.7,237.4 L588.4,236.8 L589.1,236.1 L589.7,235.3 L590.4,234.5 L591,233.6 L591.7,232.7 L592.4,232.2 L593,232.4 L593.7,233.2 L594.3,234.3 L595,235.7 L595.6,237 L596.3,238.3 L597,239.7 L597.6,241.1 L598.3,242.6 L598.9,243.9 L599.6,245 L600.2,245.1 L600.9,243.5" fill="none" stroke="#84b630" stroke-width="1.55" stroke-linejoin="round" stroke-linecap="round" />
<path d="M600.9,243.5 L601.6,238.3 L602.2,232.4 L602.9,225.7 L603.5,218 L604.2,209.3 L604.8,199.3 L605.5,188 L606.2,175.2 L606.8,160.5 L607.5,143.9 L608.1,125 L608.8,103.4 L609.5,78.9 L610.1,51.1 L610.8,19.4 L611.4,-16.7 L612.1,-57.8 L612.7,-104.5 L613.4,-157.6 L614.1,-218 L614.7,-286.8 L615.4,-365 L616,-454 L616.7,-555.2 L617.3,-670.4 L618,-801.4 L618.7,-950.5 L619.3,-1120.1 L620,-1313.1 L620.6,-1532.6 L621.3,-1782.3 L622,-2066.4 L622.6,-2389.6 L623.3,-2757.4 L623.9,-3175.7 L624.6,-3651.7 L625.2,-4193.1 L625.9,-4809.1 L626.6,-5509.9 L627.2,-6307.2 L627.9,-7214.3 L628.5,-8246.2 L629.2,-9420.3 L629.8,-10755.9 L630.5,-12275.4 L631.2,-14004.1 L631.8,-15970.8 L632.5,-18208.2 L633.1,-20753.7 L633.8,-23649.6 L634.4,-26944.2 L635.1,-30692.4 L635.8,-34956.6 L636.4,-39807.8 L637.1,-45326.9 L637.7,-51605.9 L638.4,-58749.2 L639.1,-66876 L639.7,-76121.6 L640.4,-86640 L641,-98606.6 L641.7,-112220.5 L642.3,-127708.8 L643,-145329.2" fill="none" stroke="#84b630" stroke-width="1.55" stroke-linejoin="round" stroke-linecap="round" />
</g>
<rect x="414.5" y="190.4" width="228.5" height="91" fill="none" stroke="#6c6c6c" stroke-width="1.05"/>
<line x1="414.5" y1="264.1" x2="417.1" y2="264.1" stroke="#6c6c6c" stroke-width="1" />
<line x1="414.5" y1="245.7" x2="417.1" y2="245.7" stroke="#6c6c6c" stroke-width="1" />
<line x1="414.5" y1="227.3" x2="417.1" y2="227.3" stroke="#6c6c6c" stroke-width="1" />
<line x1="414.5" y1="208.9" x2="417.1" y2="208.9" stroke="#6c6c6c" stroke-width="1" />
<line x1="456.8" y1="281.4" x2="456.8" y2="278.8" stroke="#6c6c6c" stroke-width="1" />
<line x1="456.8" y1="190.4" x2="456.8" y2="193" stroke="#6c6c6c" stroke-width="1" />
<line x1="500.2" y1="281.4" x2="500.2" y2="278.8" stroke="#6c6c6c" stroke-width="1" />
<line x1="500.2" y1="190.4" x2="500.2" y2="193" stroke="#6c6c6c" stroke-width="1" />
<line x1="528.9" y1="281.4" x2="528.9" y2="278.8" stroke="#6c6c6c" stroke-width="1" />
<line x1="528.9" y1="190.4" x2="528.9" y2="193" stroke="#6c6c6c" stroke-width="1" />
<line x1="557.6" y1="281.4" x2="557.6" y2="278.8" stroke="#6c6c6c" stroke-width="1" />
<line x1="557.6" y1="190.4" x2="557.6" y2="193" stroke="#6c6c6c" stroke-width="1" />
<line x1="601" y1="281.4" x2="601" y2="278.8" stroke="#6c6c6c" stroke-width="1" />
<line x1="601" y1="190.4" x2="601" y2="193" stroke="#6c6c6c" stroke-width="1" />
<text x="410.8" y="195.8" font-size="8.5" text-anchor="end"  >1</text>
<text x="410.8" y="282.1" font-size="8.5" text-anchor="end"  >0</text>
<text x="421.3" y="206.8" font-size="12.5" text-anchor="start"  >C</text>
<rect x="618" y="253.6" width="50" height="18" fill="#fff"/>
<text x="621" y="266.2" font-size="11.5">n<tspan font-size="8" dy="3">eff</tspan><tspan dy="-3"> =0.9</tspan></text>
<clipPath id="cc3"><rect x="414.5" y="284.4" width="228.5" height="91"/></clipPath>
<rect x="456.9" y="284.4" width="43.4" height="91" fill="#dfdfdf"/>
<rect x="557.5" y="284.4" width="43.4" height="91" fill="#dfdfdf"/>
<g clip-path="url(#cc3)">
<path d="M414.5,369.4 L415.2,369.4 L415.8,369.4 L416.5,369.4 L417.1,369.4 L417.8,369.4 L418.5,369.4 L419.1,369.4 L419.8,369.4 L420.5,369.4 L421.1,369.4 L421.8,369.4 L422.4,369.4 L423.1,369.4 L423.8,369.4 L424.4,369.4 L425.1,369.4 L425.8,369.4 L426.4,369.4 L427.1,369.4 L427.8,369.4 L428.4,369.4 L429.1,369.4 L429.7,369.4 L430.4,369.4 L431.1,369.4 L431.7,369.4 L432.4,369.4 L433.1,369.4 L433.7,369.4 L434.4,369.4 L435,369.4 L435.7,369.4 L436.4,369.4 L437,369.4 L437.7,369.4 L438.3,369.4 L439,369.4 L439.7,369.4 L440.3,369.4 L441,369.4 L441.7,369.4 L442.3,369.4 L443,369.4 L443.6,369.4 L444.3,369.4 L445,369.4 L445.6,369.4 L446.3,369.4 L447,369.4 L447.6,369.4 L448.3,369.4 L448.9,369.4 L449.6,369.4 L450.3,369.4 L450.9,369.4 L451.6,369.4 L452.3,369.4 L452.9,369.4 L453.6,369.4 L454.2,369.4 L454.9,369.4 L455.6,369.4 L456.2,369.4 L456.9,369.4" fill="none" stroke="#f0a028" stroke-width="1.45" stroke-linejoin="round" stroke-linecap="round" />
<path d="M456.9,368.8 L457.6,368.9 L458.2,368.8 L458.9,368.4 L459.5,367.8 L460.2,367.1 L460.8,366.5 L461.5,366.1 L462.2,366 L462.8,366.2 L463.5,366.7 L464.1,367.3 L464.8,368 L465.4,368.5 L466.1,368.9 L466.8,368.9 L467.4,368.7 L468.1,368.2 L468.7,367.5 L469.4,366.9 L470.1,366.4 L470.7,366.1 L471.4,366.1 L472,366.4 L472.7,366.9 L473.3,367.5 L474,368.2 L474.7,368.7 L475.3,368.9 L476,368.9 L476.6,368.5 L477.3,368 L477.9,367.3 L478.6,366.7 L479.3,366.2 L479.9,366 L480.6,366.1 L481.2,366.5 L481.9,367.1 L482.5,367.7 L483.2,368.3 L483.9,368.8 L484.5,368.9 L485.2,368.8 L485.8,368.4 L486.5,367.8 L487.1,367.1 L487.8,366.5 L488.5,366.1 L489.1,366 L489.8,366.2 L490.4,366.7 L491.1,367.3 L491.8,367.9 L492.4,368.5 L493.1,368.9 L493.7,368.9 L494.4,368.7 L495,368.2 L495.7,367.6 L496.4,366.9 L497,366.4 L497.7,366.1 L498.3,366.1 L499,366.3 L499.6,366.8 L500.3,367.5" fill="none" stroke="#f0a028" stroke-width="1.45" stroke-linejoin="round" stroke-linecap="round" />
<path d="M500.3,365.3 L501,366.1 L501.6,366.8 L502.3,367.3 L503,367.7 L503.6,368 L504.3,368.3 L505,368.5 L505.6,368.7 L506.3,368.8 L507,368.9 L507.6,369 L508.3,369.1 L508.9,369.2 L509.6,369.2 L510.3,369.2 L510.9,369.3 L511.6,369.3 L512.3,369.3 L512.9,369.3 L513.6,369.3 L514.3,369.4 L514.9,369.4 L515.6,369.4 L516.3,369.4 L516.9,369.4 L517.6,369.4 L518.3,369.4 L518.9,369.4 L519.6,369.4 L520.3,369.4 L520.9,369.4 L521.6,369.4 L522.2,369.4 L522.9,369.4 L523.6,369.4 L524.2,369.4 L524.9,369.4 L525.6,369.4 L526.2,369.4 L526.9,369.4 L527.6,369.4 L528.2,369.4 L528.9,369.4 L529.6,369.4 L530.2,369.4 L530.9,369.4 L531.6,369.4 L532.2,369.4 L532.9,369.4 L533.6,369.4 L534.2,369.4 L534.9,369.4 L535.6,369.4 L536.2,369.4 L536.9,369.4 L537.5,369.4 L538.2,369.4 L538.9,369.4 L539.5,369.4 L540.2,369.4 L540.9,369.4 L541.5,369.4 L542.2,369.4 L542.9,369.4 L543.5,369.4 L544.2,369.3 L544.9,369.3 L545.5,369.3 L546.2,369.3 L546.9,369.3 L547.5,369.2 L548.2,369.2 L548.9,369.2 L549.5,369.1 L550.2,369 L550.8,368.9 L551.5,368.8 L552.2,368.7 L552.8,368.5 L553.5,368.3 L554.2,368 L554.8,367.7 L555.5,367.3 L556.2,366.8 L556.8,366.1 L557.5,365.3" fill="none" stroke="#f0a028" stroke-width="1.45" stroke-linejoin="round" stroke-linecap="round" />
<path d="M557.5,367.5 L558.2,366.8 L558.8,366.3 L559.5,366.1 L560.1,366.1 L560.8,366.4 L561.4,366.9 L562.1,367.6 L562.8,368.2 L563.4,368.7 L564.1,368.9 L564.7,368.9 L565.4,368.5 L566,367.9 L566.7,367.3 L567.4,366.7 L568,366.2 L568.7,366 L569.3,366.1 L570,366.5 L570.7,367.1 L571.3,367.8 L572,368.4 L572.6,368.8 L573.3,368.9 L573.9,368.8 L574.6,368.3 L575.3,367.7 L575.9,367.1 L576.6,366.5 L577.2,366.1 L577.9,366 L578.5,366.2 L579.2,366.7 L579.9,367.3 L580.5,368 L581.2,368.5 L581.8,368.9 L582.5,368.9 L583.1,368.7 L583.8,368.2 L584.5,367.5 L585.1,366.9 L585.8,366.4 L586.4,366.1 L587.1,366.1 L587.7,366.4 L588.4,366.9 L589.1,367.5 L589.7,368.2 L590.4,368.7 L591,368.9 L591.7,368.9 L592.4,368.5 L593,368 L593.7,367.3 L594.3,366.7 L595,366.2 L595.6,366 L596.3,366.1 L597,366.5 L597.6,367.1 L598.3,367.8 L598.9,368.4 L599.6,368.8 L600.2,368.9 L600.9,368.8" fill="none" stroke="#f0a028" stroke-width="1.45" stroke-linejoin="round" stroke-linecap="round" />
<path d="M600.9,369.4 L601.6,369.4 L602.2,369.4 L602.9,369.4 L603.5,369.4 L604.2,369.4 L604.8,369.4 L605.5,369.4 L606.2,369.4 L606.8,369.4 L607.5,369.4 L608.1,369.4 L608.8,369.4 L609.5,369.4 L610.1,369.4 L610.8,369.4 L611.4,369.4 L612.1,369.4 L612.7,369.4 L613.4,369.4 L614.1,369.4 L614.7,369.4 L615.4,369.4 L616,369.4 L616.7,369.4 L617.3,369.4 L618,369.4 L618.7,369.4 L619.3,369.4 L620,369.4 L620.6,369.4 L621.3,369.4 L622,369.4 L622.6,369.4 L623.3,369.4 L623.9,369.4 L624.6,369.4 L625.2,369.4 L625.9,369.4 L626.6,369.4 L627.2,369.4 L627.9,369.4 L628.5,369.4 L629.2,369.4 L629.8,369.4 L630.5,369.4 L631.2,369.4 L631.8,369.4 L632.5,369.4 L633.1,369.4 L633.8,369.4 L634.4,369.4 L635.1,369.4 L635.8,369.4 L636.4,369.4 L637.1,369.4 L637.7,369.4 L638.4,369.4 L639.1,369.4 L639.7,369.4 L640.4,369.4 L641,369.4 L641.7,369.4 L642.3,369.4 L643,369.4" fill="none" stroke="#f0a028" stroke-width="1.45" stroke-linejoin="round" stroke-linecap="round" />
<path d="M414.5,-14657 L415.2,-13133.6 L415.8,-11764.5 L416.5,-10534.2 L417.1,-9428.6 L417.8,-8435 L418.5,-7542.1 L419.1,-6739.7 L419.8,-6018.7 L420.5,-5370.7 L421.1,-4788.3 L421.8,-4265 L422.4,-3794.7 L423.1,-3372.1 L423.8,-2992.3 L424.4,-2651 L425.1,-2344.3 L425.8,-2068.7 L426.4,-1821 L427.1,-1598.4 L427.8,-1398.4 L428.4,-1218.6 L429.1,-1057.1 L429.7,-911.9 L430.4,-781.4 L431.1,-664.2 L431.7,-558.8 L432.4,-464.2 L433.1,-379.1 L433.7,-302.6 L434.4,-233.9 L435,-172.2 L435.7,-116.7 L436.4,-66.8 L437,-22 L437.7,18.3 L438.3,54.5 L439,87 L439.7,116.2 L440.3,142.5 L441,166.1 L441.7,187.3 L442.3,206.4 L443,223.5 L443.6,238.9 L444.3,252.7 L445,265.2 L445.6,276.3 L446.3,286.4 L447,295.4 L447.6,303.5 L448.3,310.8 L448.9,317.3 L449.6,323.2 L450.3,328.5 L450.9,333.3 L451.6,337.5 L452.3,341.4 L452.9,344.8 L453.6,347.9 L454.2,350.7 L454.9,353.2 L455.6,355.5 L456.2,357.5 L456.9,359.3" fill="none" stroke="#4a7ec4" stroke-width="1.35" stroke-linejoin="round" stroke-linecap="round" />
<path d="M456.9,359 L457.6,358.6 L458.2,357.8 L458.9,356.9 L459.5,355.7 L460.2,354.4 L460.8,353 L461.5,351.5 L462.2,349.9 L462.8,348.3 L463.5,346.6 L464.1,344.9 L464.8,343.1 L465.4,341.3 L466.1,339.6 L466.8,337.8 L467.4,336.1 L468.1,334.4 L468.7,332.7 L469.4,331.1 L470.1,329.6 L470.7,328.1 L471.4,326.8 L472,325.5 L472.7,324.3 L473.3,323.2 L474,322.2 L474.7,321.4 L475.3,320.7 L476,320.1 L476.6,319.6 L477.3,319.3 L477.9,319 L478.6,319 L479.3,319 L479.9,319.3 L480.6,319.6 L481.2,320.1 L481.9,320.7 L482.5,321.4 L483.2,322.2 L483.9,323.2 L484.5,324.3 L485.2,325.5 L485.8,326.8 L486.5,328.1 L487.1,329.6 L487.8,331.1 L488.5,332.7 L489.1,334.4 L489.8,336.1 L490.4,337.8 L491.1,339.6 L491.8,341.3 L492.4,343.1 L493.1,344.9 L493.7,346.6 L494.4,348.3 L495,349.9 L495.7,351.5 L496.4,353 L497,354.4 L497.7,355.7 L498.3,356.9 L499,357.8 L499.6,358.6 L500.3,359" fill="none" stroke="#4a7ec4" stroke-width="1.35" stroke-linejoin="round" stroke-linecap="round" />
<path d="M500.3,359 L501,361.7 L501.6,363.9 L502.3,365.7 L503,367.3 L503.6,368.6 L504.3,369.7 L505,370.6 L505.6,371.4 L506.3,372 L507,372.6 L507.6,373 L508.3,373.4 L508.9,373.7 L509.6,374 L510.3,374.2 L510.9,374.4 L511.6,374.6 L512.3,374.7 L512.9,374.8 L513.6,374.9 L514.3,375 L514.9,375.1 L515.6,375.1 L516.3,375.2 L516.9,375.2 L517.6,375.2 L518.3,375.3 L518.9,375.3 L519.6,375.3 L520.3,375.3 L520.9,375.3 L521.6,375.3 L522.2,375.3 L522.9,375.4 L523.6,375.4 L524.2,375.4 L524.9,375.4 L525.6,375.4 L526.2,375.4 L526.9,375.4 L527.6,375.4 L528.2,375.4 L528.9,375.4 L529.6,375.4 L530.2,375.4 L530.9,375.4 L531.6,375.4 L532.2,375.4 L532.9,375.4 L533.6,375.4 L534.2,375.4 L534.9,375.4 L535.6,375.3 L536.2,375.3 L536.9,375.3 L537.5,375.3 L538.2,375.3 L538.9,375.3 L539.5,375.3 L540.2,375.2 L540.9,375.2 L541.5,375.2 L542.2,375.1 L542.9,375.1 L543.5,375 L544.2,374.9 L544.9,374.8 L545.5,374.7 L546.2,374.6 L546.9,374.4 L547.5,374.2 L548.2,374 L548.9,373.7 L549.5,373.4 L550.2,373 L550.8,372.6 L551.5,372 L552.2,371.4 L552.8,370.6 L553.5,369.7 L554.2,368.6 L554.8,367.3 L555.5,365.7 L556.2,363.9 L556.8,361.7 L557.5,359" fill="none" stroke="#4a7ec4" stroke-width="1.35" stroke-linejoin="round" stroke-linecap="round" />
<path d="M557.5,359 L558.2,358.6 L558.8,357.8 L559.5,356.9 L560.1,355.7 L560.8,354.4 L561.4,353 L562.1,351.5 L562.8,349.9 L563.4,348.3 L564.1,346.6 L564.7,344.9 L565.4,343.1 L566,341.3 L566.7,339.6 L567.4,337.8 L568,336.1 L568.7,334.4 L569.3,332.7 L570,331.1 L570.7,329.6 L571.3,328.1 L572,326.8 L572.6,325.5 L573.3,324.3 L573.9,323.2 L574.6,322.2 L575.3,321.4 L575.9,320.7 L576.6,320.1 L577.2,319.6 L577.9,319.3 L578.5,319 L579.2,319 L579.9,319 L580.5,319.3 L581.2,319.6 L581.8,320.1 L582.5,320.7 L583.1,321.4 L583.8,322.2 L584.5,323.2 L585.1,324.3 L585.8,325.5 L586.4,326.8 L587.1,328.1 L587.7,329.6 L588.4,331.1 L589.1,332.7 L589.7,334.4 L590.4,336.1 L591,337.8 L591.7,339.6 L592.4,341.3 L593,343.1 L593.7,344.9 L594.3,346.6 L595,348.3 L595.6,349.9 L596.3,351.5 L597,353 L597.6,354.4 L598.3,355.7 L598.9,356.9 L599.6,357.8 L600.2,358.6 L600.9,359" fill="none" stroke="#4a7ec4" stroke-width="1.35" stroke-linejoin="round" stroke-linecap="round" />
<path d="M600.9,359.3 L601.6,357.5 L602.2,355.5 L602.9,353.3 L603.5,350.8 L604.2,348 L604.8,345 L605.5,341.5 L606.2,337.8 L606.8,333.5 L607.5,328.9 L608.1,323.7 L608.8,317.9 L609.5,311.4 L610.1,304.3 L610.8,296.3 L611.4,287.4 L612.1,277.6 L612.7,266.7 L613.4,254.5 L614.1,240.9 L614.7,225.9 L615.4,209.2 L616,190.6 L616.7,169.9 L617.3,146.9 L618,121.3 L618.7,92.8 L619.3,61.2 L620,26 L620.6,-13.1 L621.3,-56.6 L622,-104.9 L622.6,-158.7 L623.3,-218.4 L623.9,-284.9 L624.6,-358.8 L625.2,-441 L625.9,-532.4 L626.6,-634 L627.2,-747 L627.9,-872.6 L628.5,-1012.3 L629.2,-1167.6 L629.8,-1340.3 L630.5,-1532.4 L631.2,-1745.9 L631.8,-1983.4 L632.5,-2247.4 L633.1,-2541 L633.8,-2867.4 L634.4,-3230.4 L635.1,-3634 L635.8,-4082.8 L636.4,-4581.8 L637.1,-5136.6 L637.7,-5753.6 L638.4,-6439.6 L639.1,-7202.4 L639.7,-8050.6 L640.4,-8993.8 L641,-10042.5 L641.7,-11208.6 L642.3,-12505.2 L643,-13947" fill="none" stroke="#4a7ec4" stroke-width="1.35" stroke-linejoin="round" stroke-linecap="round" />
<path d="M414.5,-45173 L415.2,-39573 L415.8,-34661.4 L416.5,-30353.8 L417.1,-26575.7 L417.8,-23262.1 L418.5,-20356 L419.1,-17807.1 L419.8,-15571.6 L420.5,-13611 L421.1,-11891.4 L421.8,-10383.2 L422.4,-9060.5 L423.1,-7900.4 L423.8,-6882.9 L424.4,-5990.5 L425.1,-5207.8 L425.8,-4521.4 L426.4,-3919.3 L427.1,-3391.3 L427.8,-2928.2 L428.4,-2522 L429.1,-2165.8 L429.7,-1853.4 L430.4,-1579.3 L431.1,-1339 L431.7,-1128.2 L432.4,-943.4 L433.1,-781.2 L433.7,-639 L434.4,-514.3 L435,-404.9 L435.7,-309 L436.4,-224.8 L437,-151 L437.7,-86.3 L438.3,-29.5 L439,20.2 L439.7,63.9 L440.3,102.2 L441,135.8 L441.7,165.3 L442.3,191.1 L443,213.7 L443.6,233.6 L444.3,251.1 L445,266.3 L445.6,279.8 L446.3,291.5 L447,301.8 L447.6,310.9 L448.3,318.8 L448.9,325.8 L449.6,331.9 L450.3,337.2 L450.9,341.9 L451.6,346 L452.3,349.6 L452.9,352.8 L453.6,355.6 L454.2,358 L454.9,360.2 L455.6,362 L456.2,363.7 L456.9,365.1" fill="none" stroke="#84b630" stroke-width="1.55" stroke-linejoin="round" stroke-linecap="round" />
<path d="M456.9,365.1 L457.6,362.7 L458.2,360.2 L458.9,357.8 L459.5,355.5 L460.2,353.2 L460.8,351 L461.5,348.9 L462.2,346.8 L462.8,344.6 L463.5,342.6 L464.1,340.6 L464.8,338.6 L465.4,336.9 L466.1,335.3 L466.8,334.3 L467.4,334.3 L468.1,335.2 L468.7,335.5 L469.4,334.5 L470.1,332.8 L470.7,330.7 L471.4,328.4 L472,326.2 L472.7,324.1 L473.3,322.2 L474,320.6 L474.7,319.1 L475.3,317.7 L476,316.3 L476.6,314.9 L477.3,313.7 L477.9,312.7 L478.6,311.8 L479.3,311.1 L479.9,310.9 L480.6,311.2 L481.2,312.1 L481.9,313.7 L482.5,315.9 L483.2,318.3 L483.9,320.7 L484.5,323.1 L485.2,325.9 L485.8,328.8 L486.5,331.8 L487.1,334.7 L487.8,337.5 L488.5,340.1 L489.1,342.3 L489.8,343.9 L490.4,344.9 L491.1,345.3 L491.8,345.2 L492.4,345 L493.1,344.6 L493.7,344.4 L494.4,344.5 L495,345.4 L495.7,346.8 L496.4,348.7 L497,350.7 L497.7,352.4 L498.3,353.9 L499,355.4 L499.6,356.8 L500.3,358.3" fill="none" stroke="#84b630" stroke-width="1.55" stroke-linejoin="round" stroke-linecap="round" />
<path d="M500.3,358.3 L501,359.5 L501.6,360.8 L502.3,362 L503,363.2 L503.6,364.4 L504.3,365.5 L505,366.4 L505.6,367.1 L506.3,367.8 L507,368.3 L507.6,368.7 L508.3,368.9 L508.9,369 L509.6,369 L510.3,368.9 L510.9,368.6 L511.6,368.3 L512.3,368 L512.9,367.7 L513.6,367.3 L514.3,367 L514.9,366.7 L515.6,366.3 L516.3,365.9 L516.9,365.5 L517.6,365.3 L518.3,365.1 L518.9,365.2 L519.6,365.4 L520.3,365.7 L520.9,366.1 L521.6,366.6 L522.2,367.1 L522.9,367.6 L523.6,368 L524.2,368.3 L524.9,368.5 L525.6,368.7 L526.2,368.8 L526.9,369 L527.6,369.1 L528.2,369.3 L528.9,369.4 L529.6,369.3 L530.2,369.1 L530.9,369 L531.6,368.8 L532.2,368.7 L532.9,368.5 L533.6,368.3 L534.2,368 L534.9,367.6 L535.6,367.1 L536.2,366.6 L536.9,366.1 L537.5,365.7 L538.2,365.4 L538.9,365.2 L539.5,365.1 L540.2,365.3 L540.9,365.5 L541.5,365.9 L542.2,366.3 L542.9,366.7 L543.5,367 L544.2,367.3 L544.9,367.7 L545.5,368 L546.2,368.3 L546.9,368.6 L547.5,368.9 L548.2,369 L548.9,369 L549.5,368.9 L550.2,368.7 L550.8,368.3 L551.5,367.8 L552.2,367.1 L552.8,366.4 L553.5,365.5 L554.2,364.4 L554.8,363.2 L555.5,362 L556.2,360.8 L556.8,359.5 L557.5,358.3" fill="none" stroke="#84b630" stroke-width="1.55" stroke-linejoin="round" stroke-linecap="round" />
<path d="M557.5,358.3 L558.2,356.8 L558.8,355.4 L559.5,353.9 L560.1,352.4 L560.8,350.7 L561.4,348.7 L562.1,346.8 L562.8,345.4 L563.4,344.5 L564.1,344.4 L564.7,344.6 L565.4,345 L566,345.2 L566.7,345.3 L567.4,344.9 L568,343.9 L568.7,342.3 L569.3,340.1 L570,337.5 L570.7,334.7 L571.3,331.8 L572,328.8 L572.6,325.9 L573.3,323.1 L573.9,320.7 L574.6,318.3 L575.3,315.9 L575.9,313.7 L576.6,312.1 L577.2,311.2 L577.9,310.9 L578.5,311.1 L579.2,311.8 L579.9,312.7 L580.5,313.7 L581.2,314.9 L581.8,316.3 L582.5,317.7 L583.1,319.1 L583.8,320.6 L584.5,322.2 L585.1,324.1 L585.8,326.2 L586.4,328.4 L587.1,330.7 L587.7,332.8 L588.4,334.5 L589.1,335.5 L589.7,335.2 L590.4,334.3 L591,334.3 L591.7,335.3 L592.4,336.9 L593,338.6 L593.7,340.6 L594.3,342.6 L595,344.6 L595.6,346.8 L596.3,348.9 L597,351 L597.6,353.2 L598.3,355.5 L598.9,357.8 L599.6,360.2 L600.2,362.7 L600.9,365.1" fill="none" stroke="#84b630" stroke-width="1.55" stroke-linejoin="round" stroke-linecap="round" />
<path d="M600.9,365.1 L601.6,363.7 L602.2,362.1 L602.9,360.2 L603.5,358.1 L604.2,355.7 L604.8,352.9 L605.5,349.8 L606.2,346.2 L606.8,342.2 L607.5,337.6 L608.1,332.3 L608.8,326.3 L609.5,319.5 L610.1,311.7 L610.8,302.8 L611.4,292.7 L612.1,281.2 L612.7,268.1 L613.4,253.2 L614.1,236.2 L614.7,216.9 L615.4,194.8 L616,169.7 L616.7,141.1 L617.3,108.5 L618,71.3 L618.7,29 L619.3,-19.2 L620,-74.1 L620.6,-136.6 L621.3,-207.8 L622,-288.9 L622.6,-381.4 L623.3,-486.7 L623.9,-606.6 L624.6,-743.2 L625.2,-898.8 L625.9,-1076.1 L626.6,-1278.1 L627.2,-1508.1 L627.9,-1770.1 L628.5,-2068.6 L629.2,-2408.7 L629.8,-2796 L630.5,-3237.2 L631.2,-3739.8 L631.8,-4312.3 L632.5,-4964.5 L633.1,-5707.4 L633.8,-6553.7 L634.4,-7517.7 L635.1,-8615.8 L635.8,-9866.7 L636.4,-11291.7 L637.1,-12914.9 L637.7,-14763.9 L638.4,-16870.1 L639.1,-19269.4 L639.7,-22002.4 L640.4,-25115.7 L641,-28662.2 L641.7,-32702 L642.3,-37303.9 L643,-42546" fill="none" stroke="#84b630" stroke-width="1.55" stroke-linejoin="round" stroke-linecap="round" />
</g>
<rect x="414.5" y="284.4" width="228.5" height="91" fill="none" stroke="#6c6c6c" stroke-width="1.05"/>
<line x1="414.5" y1="358.1" x2="417.1" y2="358.1" stroke="#6c6c6c" stroke-width="1" />
<line x1="414.5" y1="339.7" x2="417.1" y2="339.7" stroke="#6c6c6c" stroke-width="1" />
<line x1="414.5" y1="321.3" x2="417.1" y2="321.3" stroke="#6c6c6c" stroke-width="1" />
<line x1="414.5" y1="302.9" x2="417.1" y2="302.9" stroke="#6c6c6c" stroke-width="1" />
<line x1="456.8" y1="375.4" x2="456.8" y2="372.8" stroke="#6c6c6c" stroke-width="1" />
<line x1="456.8" y1="284.4" x2="456.8" y2="287" stroke="#6c6c6c" stroke-width="1" />
<line x1="500.2" y1="375.4" x2="500.2" y2="372.8" stroke="#6c6c6c" stroke-width="1" />
<line x1="500.2" y1="284.4" x2="500.2" y2="287" stroke="#6c6c6c" stroke-width="1" />
<line x1="528.9" y1="375.4" x2="528.9" y2="372.8" stroke="#6c6c6c" stroke-width="1" />
<line x1="528.9" y1="284.4" x2="528.9" y2="287" stroke="#6c6c6c" stroke-width="1" />
<line x1="557.6" y1="375.4" x2="557.6" y2="372.8" stroke="#6c6c6c" stroke-width="1" />
<line x1="557.6" y1="284.4" x2="557.6" y2="287" stroke="#6c6c6c" stroke-width="1" />
<line x1="601" y1="375.4" x2="601" y2="372.8" stroke="#6c6c6c" stroke-width="1" />
<line x1="601" y1="284.4" x2="601" y2="287" stroke="#6c6c6c" stroke-width="1" />
<text x="410.8" y="289.8" font-size="8.5" text-anchor="end"  >1</text>
<text x="410.8" y="376.1" font-size="8.5" text-anchor="end"  >0</text>
<text x="421.3" y="300.6" font-size="12.5" text-anchor="start"  >D</text>
<rect x="618" y="346.8" width="50" height="18" fill="#fff"/>
<text x="621" y="359.4" font-size="11.5">n<tspan font-size="8" dy="3">eff</tspan><tspan dy="-3"> =0.86</tspan></text>
<clipPath id="cc4"><rect x="414.5" y="379.4" width="228.5" height="90.7"/></clipPath>
<rect x="459.1" y="379.4" width="41.2" height="90.7" fill="#dfdfdf"/>
<rect x="557.5" y="379.4" width="41.2" height="90.7" fill="#dfdfdf"/>
<g clip-path="url(#cc4)">
<path d="M414.5,465.4 L415.2,465.4 L415.8,465.4 L416.5,465.4 L417.2,465.4 L417.8,465.4 L418.5,465.4 L419.2,465.4 L419.8,465.4 L420.5,465.4 L421.2,465.4 L421.8,465.4 L422.5,465.4 L423.2,465.4 L423.8,465.4 L424.5,465.4 L425.2,465.4 L425.8,465.4 L426.5,465.4 L427.1,465.4 L427.8,465.4 L428.5,465.4 L429.1,465.4 L429.8,465.4 L430.5,465.4 L431.1,465.4 L431.8,465.4 L432.5,465.4 L433.1,465.4 L433.8,465.4 L434.5,465.4 L435.1,465.4 L435.8,465.4 L436.5,465.4 L437.1,465.4 L437.8,465.4 L438.5,465.4 L439.1,465.4 L439.8,465.4 L440.5,465.4 L441.1,465.4 L441.8,465.4 L442.5,465.4 L443.1,465.4 L443.8,465.4 L444.5,465.4 L445.1,465.4 L445.8,465.4 L446.5,465.4 L447.1,465.4 L447.8,465.4 L448.4,465.4 L449.1,465.4 L449.8,465.4 L450.4,465.4 L451.1,465.4 L451.8,465.4 L452.4,465.4 L453.1,465.4 L453.8,465.4 L454.4,465.4 L455.1,465.4 L455.8,465.4 L456.4,465.4 L457.1,465.4 L457.8,465.4 L458.4,465.4 L459.1,465.4" fill="none" stroke="#f0a028" stroke-width="1.45" stroke-linejoin="round" stroke-linecap="round" />
<path d="M459.1,441.5 L459.8,441.1 L460.4,441.7 L461.1,443.3 L461.8,445.4 L462.4,447.7 L463.1,449.6 L463.8,450.8 L464.4,451 L465.1,450.2 L465.7,448.4 L466.4,446.2 L467.1,444 L467.7,442.2 L468.4,441.2 L469.1,441.3 L469.7,442.3 L470.4,444.2 L471.1,446.5 L471.7,448.6 L472.4,450.3 L473.1,451 L473.7,450.7 L474.4,449.5 L475,447.5 L475.7,445.2 L476.4,443.1 L477,441.6 L477.7,441.1 L478.4,441.6 L479,443.1 L479.7,445.2 L480.4,447.5 L481,449.5 L481.7,450.8 L482.4,451 L483,450.3 L483.7,448.6 L484.4,446.4 L485,444.2 L485.7,442.3 L486.3,441.2 L487,441.2 L487.7,442.2 L488.3,444 L489,446.3 L489.7,448.5 L490.3,450.2 L491,451 L491.7,450.8 L492.3,449.6 L493,447.7 L493.7,445.4 L494.3,443.2 L495,441.7 L495.6,441.1 L496.3,441.5 L497,442.9 L497.6,445 L498.3,447.3 L499,449.3 L499.6,450.7 L500.3,451.1" fill="none" stroke="#f0a028" stroke-width="1.45" stroke-linejoin="round" stroke-linecap="round" />
<path d="M500.3,442.9 L501,442.4 L501.6,442 L502.3,441.5 L503,441 L503.6,440.4 L504.3,439.8 L505,439.2 L505.6,439 L506.3,439.1 L507,439.5 L507.6,440.1 L508.3,440.7 L508.9,441.3 L509.6,441.8 L510.3,442.2 L510.9,442.5 L511.6,442.8 L512.3,442.9 L512.9,442.9 L513.6,442.7 L514.3,442.5 L514.9,442.2 L515.6,441.9 L516.3,441.6 L516.9,441.5 L517.6,441.7 L518.3,441.9 L518.9,442.3 L519.6,442.6 L520.3,442.8 L520.9,442.9 L521.6,442.7 L522.2,442.4 L522.9,442 L523.6,441.6 L524.2,441.3 L524.9,441.1 L525.6,441.1 L526.2,441.2 L526.9,441.4 L527.6,441.6 L528.2,441.8 L528.9,442 L529.6,441.8 L530.2,441.6 L530.9,441.4 L531.6,441.2 L532.2,441.1 L532.9,441.1 L533.6,441.3 L534.2,441.6 L534.9,442 L535.6,442.4 L536.2,442.7 L536.9,442.9 L537.5,442.8 L538.2,442.6 L538.9,442.3 L539.5,441.9 L540.2,441.7 L540.9,441.5 L541.5,441.6 L542.2,441.9 L542.9,442.2 L543.5,442.5 L544.2,442.7 L544.9,442.9 L545.5,442.9 L546.2,442.8 L546.9,442.5 L547.5,442.2 L548.2,441.8 L548.9,441.3 L549.5,440.7 L550.2,440.1 L550.8,439.5 L551.5,439.1 L552.2,439 L552.8,439.2 L553.5,439.8 L554.2,440.4 L554.8,441 L555.5,441.5 L556.2,442 L556.8,442.4 L557.5,442.9" fill="none" stroke="#f0a028" stroke-width="1.45" stroke-linejoin="round" stroke-linecap="round" />
<path d="M557.5,451.1 L558.2,450.7 L558.8,449.3 L559.5,447.3 L560.2,445 L560.8,442.9 L561.5,441.5 L562.2,441.1 L562.8,441.7 L563.5,443.2 L564.1,445.4 L564.8,447.7 L565.5,449.6 L566.1,450.8 L566.8,451 L567.5,450.2 L568.1,448.5 L568.8,446.3 L569.5,444 L570.1,442.2 L570.8,441.2 L571.5,441.2 L572.1,442.3 L572.8,444.2 L573.4,446.4 L574.1,448.6 L574.8,450.3 L575.4,451 L576.1,450.8 L576.8,449.5 L577.4,447.5 L578.1,445.2 L578.8,443.1 L579.4,441.6 L580.1,441.1 L580.8,441.6 L581.4,443.1 L582.1,445.2 L582.8,447.5 L583.4,449.5 L584.1,450.7 L584.7,451 L585.4,450.3 L586.1,448.6 L586.7,446.5 L587.4,444.2 L588.1,442.3 L588.7,441.3 L589.4,441.2 L590.1,442.2 L590.7,444 L591.4,446.2 L592.1,448.4 L592.7,450.2 L593.4,451 L594,450.8 L594.7,449.6 L595.4,447.7 L596,445.4 L596.7,443.3 L597.4,441.7 L598,441.1 L598.7,441.5" fill="none" stroke="#f0a028" stroke-width="1.45" stroke-linejoin="round" stroke-linecap="round" />
<path d="M598.7,465.4 L599.4,465.4 L600,465.4 L600.7,465.4 L601.3,465.4 L602,465.4 L602.7,465.4 L603.3,465.4 L604,465.4 L604.7,465.4 L605.3,465.4 L606,465.4 L606.6,465.4 L607.3,465.4 L608,465.4 L608.6,465.4 L609.3,465.4 L609.9,465.4 L610.6,465.4 L611.3,465.4 L611.9,465.4 L612.6,465.4 L613.2,465.4 L613.9,465.4 L614.6,465.4 L615.2,465.4 L615.9,465.4 L616.6,465.4 L617.2,465.4 L617.9,465.4 L618.5,465.4 L619.2,465.4 L619.9,465.4 L620.5,465.4 L621.2,465.4 L621.8,465.4 L622.5,465.4 L623.2,465.4 L623.8,465.4 L624.5,465.4 L625.1,465.4 L625.8,465.4 L626.5,465.4 L627.1,465.4 L627.8,465.4 L628.5,465.4 L629.1,465.4 L629.8,465.4 L630.4,465.4 L631.1,465.4 L631.8,465.4 L632.4,465.4 L633.1,465.4 L633.7,465.4 L634.4,465.4 L635.1,465.4 L635.7,465.4 L636.4,465.4 L637,465.4 L637.7,465.4 L638.4,465.4 L639,465.4 L639.7,465.4 L640.4,465.4 L641,465.4 L641.7,465.4 L642.3,465.4 L643,465.4" fill="none" stroke="#f0a028" stroke-width="1.45" stroke-linejoin="round" stroke-linecap="round" />
<path d="M414.5,-441362 L415.2,-381834.9 L415.8,-330327.8 L416.5,-285760.1 L417.2,-247196.9 L417.8,-213829.3 L418.5,-184957.2 L419.2,-159974.9 L419.8,-138358.5 L420.5,-119654.4 L421.2,-103470.3 L421.8,-89466.6 L422.5,-77349.7 L423.2,-66865.2 L423.8,-57793.2 L424.5,-49943.5 L425.2,-43151.4 L425.8,-37274.4 L426.5,-32189.1 L427.1,-27789 L427.8,-23981.7 L428.5,-20687.4 L429.1,-17836.9 L429.8,-15370.4 L430.5,-13236.3 L431.1,-11389.6 L431.8,-9791.8 L432.5,-8409.2 L433.1,-7212.9 L433.8,-6177.8 L434.5,-5282.2 L435.1,-4507.2 L435.8,-3836.6 L436.5,-3256.4 L437.1,-2754.3 L437.8,-2319.9 L438.5,-1944 L439.1,-1618.8 L439.8,-1337.3 L440.5,-1093.8 L441.1,-883.1 L441.8,-700.8 L442.5,-543 L443.1,-406.5 L443.8,-288.4 L444.5,-186.2 L445.1,-97.8 L445.8,-21.3 L446.5,44.9 L447.1,102.2 L447.8,151.8 L448.4,194.6 L449.1,231.8 L449.8,263.9 L450.4,291.7 L451.1,315.7 L451.8,336.5 L452.4,354.5 L453.1,370.1 L453.8,383.5 L454.4,395.2 L455.1,405.3 L455.8,414 L456.4,421.6 L457.1,428.1 L457.8,433.8 L458.4,438.7 L459.1,442.9" fill="none" stroke="#4a7ec4" stroke-width="1.35" stroke-linejoin="round" stroke-linecap="round" />
<path d="M459.1,439 L459.8,438.1 L460.4,437.1 L461.1,436.2 L461.8,435.2 L462.4,434.3 L463.1,433.3 L463.8,432.4 L464.4,431.5 L465.1,430.5 L465.7,429.5 L466.4,428.4 L467.1,427.2 L467.7,426 L468.4,424.8 L469.1,423.8 L469.7,423 L470.4,422.5 L471.1,422.3 L471.7,422.5 L472.4,423 L473.1,423.7 L473.7,424.6 L474.4,425.6 L475,426.6 L475.7,427.7 L476.4,428.8 L477,429.8 L477.7,430.8 L478.4,432 L479,433.3 L479.7,434.7 L480.4,436.1 L481,437.3 L481.7,438.2 L482.4,438.8 L483,439 L483.7,438.7 L484.4,437.9 L485,436.9 L485.7,435.6 L486.3,434.2 L487,432.7 L487.7,431.3 L488.3,430.1 L489,429 L489.7,427.7 L490.3,426.5 L491,425.2 L491.7,424.1 L492.3,423.1 L493,422.4 L493.7,422.3 L494.3,422.6 L495,423.3 L495.6,424.5 L496.3,425.7 L497,426.9 L497.6,428.2 L498.3,429.6 L499,431.1 L499.6,432.7 L500.3,434.2" fill="none" stroke="#4a7ec4" stroke-width="1.35" stroke-linejoin="round" stroke-linecap="round" />
<path d="M500.3,448.3 L501,450.3 L501.6,452 L502.3,453.6 L503,455.1 L503.6,456.4 L504.3,457.6 L505,458.7 L505.6,459.7 L506.3,460.6 L507,461.5 L507.6,462.2 L508.3,462.9 L508.9,463.6 L509.6,464.1 L510.3,464.7 L510.9,465.1 L511.6,465.6 L512.3,466 L512.9,466.3 L513.6,466.7 L514.3,467 L514.9,467.2 L515.6,467.5 L516.3,467.7 L516.9,467.9 L517.6,468.1 L518.3,468.3 L518.9,468.5 L519.6,468.6 L520.3,468.7 L520.9,468.9 L521.6,469 L522.2,469.1 L522.9,469.2 L523.6,469.2 L524.2,469.3 L524.9,469.4 L525.6,469.4 L526.2,469.5 L526.9,469.6 L527.6,469.6 L528.2,469.7 L528.9,469.7 L529.6,469.7 L530.2,469.6 L530.9,469.6 L531.6,469.5 L532.2,469.4 L532.9,469.4 L533.6,469.3 L534.2,469.2 L534.9,469.2 L535.6,469.1 L536.2,469 L536.9,468.9 L537.5,468.7 L538.2,468.6 L538.9,468.5 L539.5,468.3 L540.2,468.1 L540.9,467.9 L541.5,467.7 L542.2,467.5 L542.9,467.2 L543.5,467 L544.2,466.7 L544.9,466.3 L545.5,466 L546.2,465.6 L546.9,465.1 L547.5,464.7 L548.2,464.1 L548.9,463.6 L549.5,462.9 L550.2,462.2 L550.8,461.5 L551.5,460.6 L552.2,459.7 L552.8,458.7 L553.5,457.6 L554.2,456.4 L554.8,455.1 L555.5,453.6 L556.2,452 L556.8,450.3 L557.5,448.3" fill="none" stroke="#4a7ec4" stroke-width="1.35" stroke-linejoin="round" stroke-linecap="round" />
<path d="M557.5,434.2 L558.2,432.7 L558.8,431.1 L559.5,429.6 L560.2,428.2 L560.8,426.9 L561.5,425.7 L562.2,424.5 L562.8,423.3 L563.5,422.6 L564.1,422.3 L564.8,422.4 L565.5,423.1 L566.1,424.1 L566.8,425.2 L567.5,426.5 L568.1,427.7 L568.8,429 L569.5,430.1 L570.1,431.3 L570.8,432.7 L571.5,434.2 L572.1,435.6 L572.8,436.9 L573.4,437.9 L574.1,438.7 L574.8,439 L575.4,438.8 L576.1,438.2 L576.8,437.3 L577.4,436.1 L578.1,434.7 L578.8,433.3 L579.4,432 L580.1,430.8 L580.8,429.8 L581.4,428.8 L582.1,427.7 L582.8,426.6 L583.4,425.6 L584.1,424.6 L584.7,423.7 L585.4,423 L586.1,422.5 L586.7,422.3 L587.4,422.5 L588.1,423 L588.7,423.8 L589.4,424.8 L590.1,426 L590.7,427.2 L591.4,428.4 L592.1,429.5 L592.7,430.5 L593.4,431.5 L594,432.4 L594.7,433.3 L595.4,434.3 L596,435.2 L596.7,436.2 L597.4,437.1 L598,438.1 L598.7,439" fill="none" stroke="#4a7ec4" stroke-width="1.35" stroke-linejoin="round" stroke-linecap="round" />
<path d="M598.7,442.9 L599.4,438.7 L600,433.8 L600.7,428.2 L601.3,421.8 L602,414.3 L602.7,405.7 L603.3,395.7 L604,384.2 L604.7,370.9 L605.3,355.6 L606,337.9 L606.6,317.5 L607.3,293.9 L608,266.7 L608.6,235.2 L609.3,198.9 L609.9,157 L610.6,108.6 L611.3,52.7 L611.9,-11.8 L612.6,-86.3 L613.2,-172.3 L613.9,-271.6 L614.6,-386.3 L615.2,-518.7 L615.9,-671.5 L616.6,-848 L617.2,-1051.8 L617.9,-1287 L618.5,-1558.6 L619.2,-1872.2 L619.9,-2234.3 L620.5,-2652.4 L621.2,-3135.1 L621.8,-3692.3 L622.5,-4335.8 L623.2,-5078.7 L623.8,-5936.4 L624.5,-6926.7 L625.1,-8070.2 L625.8,-9390.3 L626.5,-10914.6 L627.1,-12674.4 L627.8,-14706.3 L628.5,-17052.3 L629.1,-19760.9 L629.8,-22888.3 L630.4,-26499.1 L631.1,-30668 L631.8,-35481.4 L632.4,-41038.8 L633.1,-47455.3 L633.7,-54863.6 L634.4,-63417.2 L635.1,-73293 L635.7,-84695.4 L636.4,-97860.4 L637,-113060.5 L637.7,-130610.2 L638.4,-150872.8 L639,-174267.5 L639.7,-201278.7 L640.4,-232465.3 L641,-268472.8 L641.7,-310046.4 L642.3,-358046.4 L643,-413466.4" fill="none" stroke="#4a7ec4" stroke-width="1.35" stroke-linejoin="round" stroke-linecap="round" />
<path d="M414.5,-441362 L415.2,-381834.9 L415.8,-330327.8 L416.5,-285760.1 L417.2,-247196.9 L417.8,-213829.3 L418.5,-184957.2 L419.2,-159974.9 L419.8,-138358.5 L420.5,-119654.4 L421.2,-103470.3 L421.8,-89466.6 L422.5,-77349.7 L423.2,-66865.2 L423.8,-57793.2 L424.5,-49943.5 L425.2,-43151.4 L425.8,-37274.4 L426.5,-32189.1 L427.1,-27789 L427.8,-23981.7 L428.5,-20687.4 L429.1,-17836.9 L429.8,-15370.4 L430.5,-13236.3 L431.1,-11389.6 L431.8,-9791.8 L432.5,-8409.2 L433.1,-7212.9 L433.8,-6177.8 L434.5,-5282.2 L435.1,-4507.2 L435.8,-3836.6 L436.5,-3256.4 L437.1,-2754.3 L437.8,-2319.9 L438.5,-1944 L439.1,-1618.8 L439.8,-1337.3 L440.5,-1093.8 L441.1,-883.1 L441.8,-700.8 L442.5,-543 L443.1,-406.5 L443.8,-288.4 L444.5,-186.2 L445.1,-97.8 L445.8,-21.3 L446.5,44.9 L447.1,102.2 L447.8,151.8 L448.4,194.6 L449.1,231.8 L449.8,263.9 L450.4,291.7 L451.1,315.7 L451.8,336.5 L452.4,354.5 L453.1,370.1 L453.8,383.5 L454.4,395.2 L455.1,405.3 L455.8,414 L456.4,421.6 L457.1,428.1 L457.8,433.8 L458.4,438.7 L459.1,442.9" fill="none" stroke="#84b630" stroke-width="1.55" stroke-linejoin="round" stroke-linecap="round" />
<path d="M459.1,442.9 L459.8,448.7 L460.4,454.1 L461.1,457.2 L461.8,456.2 L462.4,450.7 L463.1,443.1 L463.8,435.1 L464.4,428.2 L465.1,420.7 L465.7,412.9 L466.4,406 L467.1,401.4 L467.7,400.3 L468.4,403 L469.1,408.2 L469.7,414.6 L470.4,421.2 L471.1,427 L471.7,433.8 L472.4,441.1 L473.1,447.4 L473.7,451.2 L474.4,451 L475,447.1 L475.7,441.2 L476.4,435.1 L477,430.5 L477.7,425.9 L478.4,421.4 L479,418.1 L479.7,416.8 L480.4,418 L481,421 L481.7,425.1 L482.4,429.7 L483,434.6 L483.7,441.4 L484.4,448.7 L485,454.2 L485.7,455.4 L486.3,451.4 L487,443.8 L487.7,434.7 L488.3,426.5 L489,419.2 L489.7,411 L490.3,403.2 L491,397 L491.7,393.5 L492.3,393.5 L493,396.4 L493.7,401.1 L494.3,407 L495,413.4 L495.6,419.8 L496.3,426.6 L497,434.9 L497.6,443.6 L498.3,451.5 L499,455.8 L499.6,453.8 L500.3,447.7" fill="none" stroke="#84b630" stroke-width="1.55" stroke-linejoin="round" stroke-linecap="round" />
<path d="M500.3,447.7 L501,445.7 L501.6,443.8 L502.3,441.9 L503,440 L503.6,438 L504.3,435.9 L505,434.1 L505.6,432.8 L506.3,432.5 L507,433.2 L507.6,434.3 L508.3,435.6 L508.9,436.6 L509.6,437.3 L510.3,437.9 L510.9,438.5 L511.6,439.1 L512.3,439.6 L512.9,440 L513.6,440.4 L514.3,440.5 L514.9,440 L515.6,439.1 L516.3,438.4 L516.9,438.4 L517.6,439 L518.3,439.9 L518.9,440.9 L519.6,441.8 L520.3,442.6 L520.9,442.9 L521.6,442.7 L522.2,442 L522.9,441.2 L523.6,440.3 L524.2,439.6 L524.9,439.3 L525.6,439.4 L526.2,439.7 L526.9,440.2 L527.6,440.8 L528.2,441.4 L528.9,442 L529.6,441.4 L530.2,440.8 L530.9,440.2 L531.6,439.7 L532.2,439.4 L532.9,439.3 L533.6,439.6 L534.2,440.3 L534.9,441.2 L535.6,442 L536.2,442.7 L536.9,442.9 L537.5,442.6 L538.2,441.8 L538.9,440.9 L539.5,439.9 L540.2,439 L540.9,438.4 L541.5,438.4 L542.2,439.1 L542.9,440 L543.5,440.5 L544.2,440.4 L544.9,440 L545.5,439.6 L546.2,439.1 L546.9,438.5 L547.5,437.9 L548.2,437.3 L548.9,436.6 L549.5,435.6 L550.2,434.3 L550.8,433.2 L551.5,432.5 L552.2,432.8 L552.8,434.1 L553.5,435.9 L554.2,438 L554.8,440 L555.5,441.9 L556.2,443.8 L556.8,445.7 L557.5,447.7" fill="none" stroke="#84b630" stroke-width="1.55" stroke-linejoin="round" stroke-linecap="round" />
<path d="M557.5,447.7 L558.2,453.8 L558.8,455.8 L559.5,451.5 L560.2,443.6 L560.8,434.9 L561.5,426.6 L562.2,419.8 L562.8,413.4 L563.5,407 L564.1,401.1 L564.8,396.4 L565.5,393.5 L566.1,393.5 L566.8,397 L567.5,403.2 L568.1,411 L568.8,419.2 L569.5,426.5 L570.1,434.7 L570.8,443.8 L571.5,451.4 L572.1,455.4 L572.8,454.2 L573.4,448.7 L574.1,441.4 L574.8,434.6 L575.4,429.7 L576.1,425.1 L576.8,421 L577.4,418 L578.1,416.8 L578.8,418.1 L579.4,421.4 L580.1,425.9 L580.8,430.5 L581.4,435.1 L582.1,441.2 L582.8,447.1 L583.4,451 L584.1,451.2 L584.7,447.4 L585.4,441.1 L586.1,433.8 L586.7,427 L587.4,421.2 L588.1,414.6 L588.7,408.2 L589.4,403 L590.1,400.3 L590.7,401.4 L591.4,406 L592.1,412.9 L592.7,420.7 L593.4,428.2 L594,435.1 L594.7,443.1 L595.4,450.7 L596,456.2 L596.7,457.2 L597.4,454.1 L598,448.7 L598.7,442.9" fill="none" stroke="#84b630" stroke-width="1.55" stroke-linejoin="round" stroke-linecap="round" />
<path d="M598.7,442.9 L599.4,438.7 L600,433.8 L600.7,428.2 L601.3,421.8 L602,414.3 L602.7,405.7 L603.3,395.7 L604,384.2 L604.7,370.9 L605.3,355.6 L606,337.9 L606.6,317.5 L607.3,293.9 L608,266.7 L608.6,235.2 L609.3,198.9 L609.9,157 L610.6,108.6 L611.3,52.7 L611.9,-11.8 L612.6,-86.3 L613.2,-172.3 L613.9,-271.6 L614.6,-386.3 L615.2,-518.7 L615.9,-671.5 L616.6,-848 L617.2,-1051.8 L617.9,-1287 L618.5,-1558.6 L619.2,-1872.2 L619.9,-2234.3 L620.5,-2652.4 L621.2,-3135.1 L621.8,-3692.3 L622.5,-4335.8 L623.2,-5078.7 L623.8,-5936.4 L624.5,-6926.7 L625.1,-8070.2 L625.8,-9390.3 L626.5,-10914.6 L627.1,-12674.4 L627.8,-14706.3 L628.5,-17052.3 L629.1,-19760.9 L629.8,-22888.3 L630.4,-26499.1 L631.1,-30668 L631.8,-35481.4 L632.4,-41038.8 L633.1,-47455.3 L633.7,-54863.6 L634.4,-63417.2 L635.1,-73293 L635.7,-84695.4 L636.4,-97860.4 L637,-113060.5 L637.7,-130610.2 L638.4,-150872.8 L639,-174267.5 L639.7,-201278.7 L640.4,-232465.3 L641,-268472.8 L641.7,-310046.4 L642.3,-358046.4 L643,-413466.4" fill="none" stroke="#84b630" stroke-width="1.55" stroke-linejoin="round" stroke-linecap="round" />
</g>
<rect x="414.5" y="379.4" width="228.5" height="90.7" fill="none" stroke="#6c6c6c" stroke-width="1.05"/>
<line x1="414.5" y1="452.8" x2="417.1" y2="452.8" stroke="#6c6c6c" stroke-width="1" />
<line x1="414.5" y1="434.4" x2="417.1" y2="434.4" stroke="#6c6c6c" stroke-width="1" />
<line x1="414.5" y1="416" x2="417.1" y2="416" stroke="#6c6c6c" stroke-width="1" />
<line x1="414.5" y1="397.6" x2="417.1" y2="397.6" stroke="#6c6c6c" stroke-width="1" />
<line x1="456.8" y1="470.1" x2="456.8" y2="467.5" stroke="#6c6c6c" stroke-width="1" />
<line x1="456.8" y1="379.4" x2="456.8" y2="382.1" stroke="#6c6c6c" stroke-width="1" />
<line x1="500.2" y1="470.1" x2="500.2" y2="467.5" stroke="#6c6c6c" stroke-width="1" />
<line x1="500.2" y1="379.4" x2="500.2" y2="382.1" stroke="#6c6c6c" stroke-width="1" />
<line x1="528.9" y1="470.1" x2="528.9" y2="467.5" stroke="#6c6c6c" stroke-width="1" />
<line x1="528.9" y1="379.4" x2="528.9" y2="382.1" stroke="#6c6c6c" stroke-width="1" />
<line x1="557.6" y1="470.1" x2="557.6" y2="467.5" stroke="#6c6c6c" stroke-width="1" />
<line x1="557.6" y1="379.4" x2="557.6" y2="382.1" stroke="#6c6c6c" stroke-width="1" />
<line x1="601" y1="470.1" x2="601" y2="467.5" stroke="#6c6c6c" stroke-width="1" />
<line x1="601" y1="379.4" x2="601" y2="382.1" stroke="#6c6c6c" stroke-width="1" />
<text x="410.8" y="384.8" font-size="8.5" text-anchor="end"  >1</text>
<text x="410.8" y="470.8" font-size="8.5" text-anchor="end"  >0</text>
<text x="422" y="395.4" font-size="12.5" text-anchor="start"  >E</text>
<rect x="618" y="392.6" width="50" height="18" fill="#fff"/>
<text x="621" y="405.2" font-size="11.5">n<tspan font-size="8" dy="3">eff</tspan><tspan dy="-3"> =0.75</tspan></text>
<clipPath id="cc5"><rect x="414.5" y="473.5" width="228.5" height="91"/></clipPath>
<rect x="457.3" y="473.5" width="43" height="91" fill="#dfdfdf"/>
<rect x="557.5" y="473.5" width="43" height="91" fill="#dfdfdf"/>
<g clip-path="url(#cc5)">
<path d="M414.5,550.4 L415.2,550.4 L415.8,550.4 L416.5,550.4 L417.1,550.5 L417.8,550.5 L418.5,550.5 L419.1,550.5 L419.8,550.5 L420.4,550.6 L421.1,550.6 L421.7,550.6 L422.4,550.6 L423.1,550.6 L423.7,550.6 L424.4,550.7 L425,550.7 L425.7,550.7 L426.4,550.7 L427,550.7 L427.7,550.8 L428.3,550.8 L429,550.8 L429.6,550.8 L430.3,550.8 L431,550.8 L431.6,550.9 L432.3,550.9 L432.9,550.9 L433.6,550.9 L434.3,550.9 L434.9,551 L435.6,551 L436.2,551 L436.9,551 L437.5,551 L438.2,551 L438.9,551.1 L439.5,551.1 L440.2,551.1 L440.8,551.1 L441.5,551.1 L442.2,551.2 L442.8,551.2 L443.5,551.2 L444.1,551.2 L444.8,551.2 L445.4,551.2 L446.1,551.3 L446.8,551.3 L447.4,551.3 L448.1,551.3 L448.7,551.3 L449.4,551.4 L450.1,551.4 L450.7,551.4 L451.4,551.4 L452,551.4 L452.7,551.5 L453.3,551.5 L454,551.5 L454.7,551.5 L455.3,551.5 L456,551.5 L456.6,551.6 L457.3,551.6" fill="none" stroke="#f0a028" stroke-width="1.45" stroke-linejoin="round" stroke-linecap="round" />
<path d="M457.3,561.1 L458,560.8 L458.6,560 L459.3,559 L459.9,558.1 L460.6,557.6 L461.3,557.6 L461.9,558.1 L462.6,559 L463.3,560 L463.9,560.8 L464.6,561.1 L465.2,560.9 L465.9,560.3 L466.6,559.3 L467.2,558.3 L467.9,557.7 L468.5,557.5 L469.2,557.9 L469.9,558.7 L470.5,559.7 L471.2,560.6 L471.9,561.1 L472.5,561.1 L473.2,560.5 L473.8,559.6 L474.5,558.6 L475.2,557.9 L475.8,557.5 L476.5,557.7 L477.1,558.4 L477.8,559.3 L478.5,560.3 L479.1,560.9 L479.8,561.1 L480.5,560.8 L481.1,560 L481.8,559 L482.4,558.1 L483.1,557.6 L483.8,557.6 L484.4,558.1 L485.1,559 L485.7,560 L486.4,560.8 L487.1,561.1 L487.7,560.9 L488.4,560.3 L489.1,559.3 L489.7,558.4 L490.4,557.7 L491,557.5 L491.7,557.9 L492.4,558.7 L493,559.7 L493.7,560.5 L494.3,561.1 L495,561.1 L495.7,560.5 L496.3,559.6 L497,558.7 L497.7,557.9 L498.3,557.5 L499,557.7 L499.6,558.4 L500.3,559.3" fill="none" stroke="#f0a028" stroke-width="1.45" stroke-linejoin="round" stroke-linecap="round" />
<path d="M500.3,556 L501,555.9 L501.6,555.7 L502.3,555.3 L503,554.9 L503.6,554.5 L504.3,554.1 L505,553.8 L505.6,553.7 L506.3,553.7 L507,553.9 L507.6,554.2 L508.3,554.5 L508.9,555 L509.6,555.4 L510.3,555.7 L510.9,555.9 L511.6,556 L512.3,556 L512.9,555.8 L513.6,555.4 L514.3,555 L514.9,554.6 L515.6,554.2 L516.3,553.9 L516.9,553.7 L517.6,553.7 L518.3,553.8 L518.9,554.1 L519.6,554.4 L520.3,554.8 L520.9,555.3 L521.6,555.6 L522.2,555.9 L522.9,556 L523.6,556 L524.2,555.8 L524.9,555.5 L525.6,555.1 L526.2,554.7 L526.9,554.3 L527.6,554 L528.2,553.7 L528.9,553.7 L529.6,553.7 L530.2,554 L530.9,554.3 L531.6,554.7 L532.2,555.1 L532.9,555.5 L533.6,555.8 L534.2,556 L534.9,556 L535.6,555.9 L536.2,555.6 L536.9,555.3 L537.5,554.8 L538.2,554.4 L538.9,554.1 L539.5,553.8 L540.2,553.7 L540.9,553.7 L541.5,553.9 L542.2,554.2 L542.9,554.6 L543.5,555 L544.2,555.4 L544.9,555.8 L545.5,556 L546.2,556 L546.9,555.9 L547.5,555.7 L548.2,555.4 L548.9,555 L549.5,554.5 L550.2,554.2 L550.8,553.9 L551.5,553.7 L552.2,553.7 L552.8,553.8 L553.5,554.1 L554.2,554.5 L554.8,554.9 L555.5,555.3 L556.2,555.7 L556.8,555.9 L557.5,556" fill="none" stroke="#f0a028" stroke-width="1.45" stroke-linejoin="round" stroke-linecap="round" />
<path d="M557.5,559.3 L558.2,558.4 L558.8,557.7 L559.5,557.5 L560.1,557.9 L560.8,558.7 L561.5,559.6 L562.1,560.5 L562.8,561.1 L563.5,561.1 L564.1,560.5 L564.8,559.7 L565.4,558.7 L566.1,557.9 L566.8,557.5 L567.4,557.7 L568.1,558.4 L568.7,559.3 L569.4,560.3 L570.1,560.9 L570.7,561.1 L571.4,560.8 L572.1,560 L572.7,559 L573.4,558.1 L574,557.6 L574.7,557.6 L575.4,558.1 L576,559 L576.7,560 L577.3,560.8 L578,561.1 L578.7,560.9 L579.3,560.3 L580,559.3 L580.7,558.4 L581.3,557.7 L582,557.5 L582.6,557.9 L583.3,558.6 L584,559.6 L584.6,560.5 L585.3,561.1 L585.9,561.1 L586.6,560.6 L587.3,559.7 L587.9,558.7 L588.6,557.9 L589.3,557.5 L589.9,557.7 L590.6,558.3 L591.2,559.3 L591.9,560.3 L592.6,560.9 L593.2,561.1 L593.9,560.8 L594.5,560 L595.2,559 L595.9,558.1 L596.5,557.6 L597.2,557.6 L597.9,558.1 L598.5,559 L599.2,560 L599.8,560.8 L600.5,561.1" fill="none" stroke="#f0a028" stroke-width="1.45" stroke-linejoin="round" stroke-linecap="round" />
<path d="M600.5,551.6 L601.2,551.6 L601.8,551.5 L602.5,551.5 L603.2,551.5 L603.8,551.5 L604.5,551.5 L605.1,551.4 L605.8,551.4 L606.5,551.4 L607.1,551.4 L607.8,551.4 L608.5,551.4 L609.1,551.3 L609.8,551.3 L610.5,551.3 L611.1,551.3 L611.8,551.3 L612.5,551.2 L613.1,551.2 L613.8,551.2 L614.4,551.2 L615.1,551.2 L615.8,551.2 L616.4,551.1 L617.1,551.1 L617.8,551.1 L618.4,551.1 L619.1,551.1 L619.8,551 L620.4,551 L621.1,551 L621.8,551 L622.4,551 L623.1,551 L623.7,550.9 L624.4,550.9 L625.1,550.9 L625.7,550.9 L626.4,550.9 L627.1,550.8 L627.7,550.8 L628.4,550.8 L629.1,550.8 L629.7,550.8 L630.4,550.8 L631,550.7 L631.7,550.7 L632.4,550.7 L633,550.7 L633.7,550.7 L634.4,550.6 L635,550.6 L635.7,550.6 L636.4,550.6 L637,550.6 L637.7,550.5 L638.4,550.5 L639,550.5 L639.7,550.5 L640.3,550.5 L641,550.5 L641.7,550.4 L642.3,550.4 L643,550.4" fill="none" stroke="#f0a028" stroke-width="1.45" stroke-linejoin="round" stroke-linecap="round" />
<path d="M414.5,508 L415.2,508.3 L415.8,508.6 L416.5,508.9 L417.1,509.1 L417.8,509.4 L418.5,509.7 L419.1,509.9 L419.8,510.2 L420.4,510.5 L421.1,510.7 L421.7,511 L422.4,511.3 L423.1,511.6 L423.7,511.8 L424.4,512.1 L425,512.4 L425.7,512.6 L426.4,512.9 L427,513.2 L427.7,513.5 L428.3,513.7 L429,514 L429.6,514.3 L430.3,514.5 L431,514.8 L431.6,515.1 L432.3,515.4 L432.9,515.6 L433.6,515.9 L434.3,516.2 L434.9,516.4 L435.6,516.7 L436.2,517 L436.9,517.2 L437.5,517.5 L438.2,517.8 L438.9,518.1 L439.5,518.3 L440.2,518.6 L440.8,518.9 L441.5,519.1 L442.2,519.4 L442.8,519.7 L443.5,520 L444.1,520.2 L444.8,520.5 L445.4,520.8 L446.1,521 L446.8,521.3 L447.4,521.6 L448.1,521.9 L448.7,522.1 L449.4,522.4 L450.1,522.7 L450.7,522.9 L451.4,523.2 L452,523.5 L452.7,523.7 L453.3,524 L454,524.3 L454.7,524.6 L455.3,524.8 L456,525.1 L456.6,525.4 L457.3,525.6" fill="none" stroke="#4a7ec4" stroke-width="1.35" stroke-linejoin="round" stroke-linecap="round" />
<path d="M457.3,533.4 L458,533.3 L458.6,533.2 L459.3,533 L459.9,532.7 L460.6,532.4 L461.3,532 L461.9,531.7 L462.6,531.4 L463.3,531.1 L463.9,530.9 L464.6,530.8 L465.2,530.8 L465.9,530.9 L466.6,531.1 L467.2,531.4 L467.9,531.7 L468.5,532 L469.2,532.4 L469.9,532.7 L470.5,533 L471.2,533.2 L471.9,533.3 L472.5,533.4 L473.2,533.3 L473.8,533.2 L474.5,532.9 L475.2,532.6 L475.8,532.3 L476.5,531.9 L477.1,531.6 L477.8,531.3 L478.5,531.1 L479.1,530.9 L479.8,530.8 L480.5,530.9 L481.1,531 L481.8,531.2 L482.4,531.5 L483.1,531.8 L483.8,532.2 L484.4,532.5 L485.1,532.8 L485.7,533.1 L486.4,533.3 L487.1,533.4 L487.7,533.4 L488.4,533.3 L489.1,533.1 L489.7,532.8 L490.4,532.5 L491,532.2 L491.7,531.8 L492.4,531.5 L493,531.2 L493.7,531 L494.3,530.9 L495,530.8 L495.7,530.9 L496.3,531.1 L497,531.3 L497.7,531.6 L498.3,531.9 L499,532.3 L499.6,532.6 L500.3,532.9" fill="none" stroke="#4a7ec4" stroke-width="1.35" stroke-linejoin="round" stroke-linecap="round" />
<path d="M500.3,529.6 L501,528.4 L501.6,527.2 L502.3,526 L503,524.8 L503.6,523.7 L504.3,522.5 L505,521.3 L505.6,520.2 L506.3,519.1 L507,518 L507.6,516.9 L508.3,515.8 L508.9,514.7 L509.6,513.7 L510.3,512.6 L510.9,511.6 L511.6,510.7 L512.3,509.7 L512.9,508.8 L513.6,507.9 L514.3,507 L514.9,506.2 L515.6,505.4 L516.3,504.6 L516.9,503.8 L517.6,503.1 L518.3,502.5 L518.9,501.8 L519.6,501.2 L520.3,500.7 L520.9,500.1 L521.6,499.7 L522.2,499.2 L522.9,498.8 L523.6,498.4 L524.2,498.1 L524.9,497.8 L525.6,497.6 L526.2,497.4 L526.9,497.3 L527.6,497.2 L528.2,497.1 L528.9,497.1 L529.6,497.1 L530.2,497.2 L530.9,497.3 L531.6,497.4 L532.2,497.6 L532.9,497.8 L533.6,498.1 L534.2,498.4 L534.9,498.8 L535.6,499.2 L536.2,499.7 L536.9,500.1 L537.5,500.7 L538.2,501.2 L538.9,501.8 L539.5,502.5 L540.2,503.1 L540.9,503.8 L541.5,504.6 L542.2,505.4 L542.9,506.2 L543.5,507 L544.2,507.9 L544.9,508.8 L545.5,509.7 L546.2,510.7 L546.9,511.6 L547.5,512.6 L548.2,513.7 L548.9,514.7 L549.5,515.8 L550.2,516.9 L550.8,518 L551.5,519.1 L552.2,520.2 L552.8,521.3 L553.5,522.5 L554.2,523.7 L554.8,524.8 L555.5,526 L556.2,527.2 L556.8,528.4 L557.5,529.6" fill="none" stroke="#4a7ec4" stroke-width="1.35" stroke-linejoin="round" stroke-linecap="round" />
<path d="M557.5,532.9 L558.2,532.6 L558.8,532.3 L559.5,531.9 L560.1,531.6 L560.8,531.3 L561.5,531.1 L562.1,530.9 L562.8,530.8 L563.5,530.9 L564.1,531 L564.8,531.2 L565.4,531.5 L566.1,531.8 L566.8,532.2 L567.4,532.5 L568.1,532.8 L568.7,533.1 L569.4,533.3 L570.1,533.4 L570.7,533.4 L571.4,533.3 L572.1,533.1 L572.7,532.8 L573.4,532.5 L574,532.2 L574.7,531.8 L575.4,531.5 L576,531.2 L576.7,531 L577.3,530.9 L578,530.8 L578.7,530.9 L579.3,531.1 L580,531.3 L580.7,531.6 L581.3,531.9 L582,532.3 L582.6,532.6 L583.3,532.9 L584,533.2 L584.6,533.3 L585.3,533.4 L585.9,533.3 L586.6,533.2 L587.3,533 L587.9,532.7 L588.6,532.4 L589.3,532 L589.9,531.7 L590.6,531.4 L591.2,531.1 L591.9,530.9 L592.6,530.8 L593.2,530.8 L593.9,530.9 L594.5,531.1 L595.2,531.4 L595.9,531.7 L596.5,532 L597.2,532.4 L597.9,532.7 L598.5,533 L599.2,533.2 L599.8,533.3 L600.5,533.4" fill="none" stroke="#4a7ec4" stroke-width="1.35" stroke-linejoin="round" stroke-linecap="round" />
<path d="M600.5,525.6 L601.2,525.4 L601.8,525.1 L602.5,524.8 L603.2,524.6 L603.8,524.3 L604.5,524 L605.1,523.7 L605.8,523.5 L606.5,523.2 L607.1,522.9 L607.8,522.6 L608.5,522.4 L609.1,522.1 L609.8,521.8 L610.5,521.5 L611.1,521.3 L611.8,521 L612.5,520.7 L613.1,520.5 L613.8,520.2 L614.4,519.9 L615.1,519.6 L615.8,519.4 L616.4,519.1 L617.1,518.8 L617.8,518.5 L618.4,518.3 L619.1,518 L619.8,517.7 L620.4,517.4 L621.1,517.2 L621.8,516.9 L622.4,516.6 L623.1,516.4 L623.7,516.1 L624.4,515.8 L625.1,515.5 L625.7,515.3 L626.4,515 L627.1,514.7 L627.7,514.4 L628.4,514.2 L629.1,513.9 L629.7,513.6 L630.4,513.4 L631,513.1 L631.7,512.8 L632.4,512.5 L633,512.3 L633.7,512 L634.4,511.7 L635,511.4 L635.7,511.2 L636.4,510.9 L637,510.6 L637.7,510.3 L638.4,510.1 L639,509.8 L639.7,509.5 L640.3,509.3 L641,509 L641.7,508.7 L642.3,508.4 L643,508.2" fill="none" stroke="#4a7ec4" stroke-width="1.35" stroke-linejoin="round" stroke-linecap="round" />
<path d="M414.5,501.3 L415.2,502.8 L415.8,504.3 L416.5,505.9 L417.1,507.5 L417.8,509.1 L418.5,510.6 L419.1,512.1 L419.8,513.4 L420.4,514.7 L421.1,515.9 L421.7,517.2 L422.4,518.3 L423.1,519.4 L423.7,520.2 L424.4,520.8 L425,521 L425.7,521.1 L426.4,520.9 L427,520.5 L427.7,519.9 L428.3,519.3 L429,518.5 L429.6,517.8 L430.3,517 L431,516.2 L431.6,515.4 L432.3,514.6 L432.9,513.9 L433.6,513.3 L434.3,512.6 L434.9,511.8 L435.6,511.1 L436.2,510.3 L436.9,509.7 L437.5,509.1 L438.2,508.7 L438.9,508.5 L439.5,508.6 L440.2,508.8 L440.8,509.2 L441.5,509.7 L442.2,510.3 L442.8,511.1 L443.5,511.9 L444.1,512.8 L444.8,513.7 L445.4,514.7 L446.1,515.8 L446.8,517 L447.4,518.4 L448.1,519.9 L448.7,521.3 L449.4,522.8 L450.1,524.1 L450.7,525.3 L451.4,526.4 L452,527.3 L452.7,528 L453.3,528.7 L454,529.3 L454.7,529.9 L455.3,530.4 L456,530.9 L456.6,531.5 L457.3,532" fill="none" stroke="#84b630" stroke-width="1.55" stroke-linejoin="round" stroke-linecap="round" />
<path d="M457.3,533.2 L458,533.1 L458.6,532.9 L459.3,532.6 L459.9,532.2 L460.6,531.6 L461.3,531.1 L461.9,530.6 L462.6,530.1 L463.3,529.6 L463.9,529.4 L464.6,529.2 L465.2,529.2 L465.9,529.4 L466.6,529.7 L467.2,530.1 L467.9,530.6 L468.5,531.1 L469.2,531.7 L469.9,532.2 L470.5,532.6 L471.2,532.9 L471.9,533.1 L472.5,533.2 L473.2,533.1 L473.8,532.8 L474.5,532.5 L475.2,532 L475.8,531.5 L476.5,530.9 L477.1,530.4 L477.8,529.9 L478.5,529.5 L479.1,529.3 L479.8,529.2 L480.5,529.2 L481.1,529.4 L481.8,529.8 L482.4,530.2 L483.1,530.7 L483.8,531.3 L484.4,531.8 L485.1,532.3 L485.7,532.7 L486.4,533 L487.1,533.2 L487.7,533.2 L488.4,533 L489.1,532.7 L489.7,532.3 L490.4,531.8 L491,531.3 L491.7,530.7 L492.4,530.2 L493,529.8 L493.7,529.4 L494.3,529.2 L495,529.2 L495.7,529.3 L496.3,529.5 L497,529.9 L497.7,530.4 L498.3,530.9 L499,531.5 L499.6,532 L500.3,532.5" fill="none" stroke="#84b630" stroke-width="1.55" stroke-linejoin="round" stroke-linecap="round" />
<path d="M500.3,531.2 L501,531.5 L501.6,530.5 L502.3,528.9 L503,527 L503.6,524.8 L504.3,522.4 L505,520.1 L505.6,518 L506.3,516 L507,514 L507.6,512 L508.3,509.9 L508.9,507.9 L509.6,505.9 L510.3,504.1 L510.9,502.4 L511.6,500.8 L512.3,499.3 L512.9,497.8 L513.6,496.5 L514.3,495.5 L514.9,494.7 L515.6,493.9 L516.3,493.3 L516.9,493 L517.6,493 L518.3,493.3 L518.9,493.8 L519.6,494.5 L520.3,495.2 L520.9,496.1 L521.6,497 L522.2,498.1 L522.9,499.5 L523.6,501 L524.2,502.3 L524.9,503.4 L525.6,504.4 L526.2,505.2 L526.9,505.8 L527.6,506.2 L528.2,506.4 L528.9,506.5 L529.6,506.4 L530.2,506.2 L530.9,505.8 L531.6,505.2 L532.2,504.4 L532.9,503.4 L533.6,502.3 L534.2,501 L534.9,499.5 L535.6,498.1 L536.2,497 L536.9,496.1 L537.5,495.2 L538.2,494.5 L538.9,493.8 L539.5,493.3 L540.2,493 L540.9,493 L541.5,493.3 L542.2,493.9 L542.9,494.7 L543.5,495.5 L544.2,496.5 L544.9,497.8 L545.5,499.3 L546.2,500.8 L546.9,502.4 L547.5,504.1 L548.2,505.9 L548.9,507.9 L549.5,509.9 L550.2,512 L550.8,514 L551.5,516 L552.2,518 L552.8,520.1 L553.5,522.4 L554.2,524.8 L554.8,527 L555.5,528.9 L556.2,530.5 L556.8,531.5 L557.5,531.2" fill="none" stroke="#84b630" stroke-width="1.55" stroke-linejoin="round" stroke-linecap="round" />
<path d="M557.5,532.5 L558.2,532 L558.8,531.5 L559.5,530.9 L560.1,530.4 L560.8,529.9 L561.5,529.5 L562.1,529.3 L562.8,529.2 L563.5,529.2 L564.1,529.4 L564.8,529.8 L565.4,530.2 L566.1,530.7 L566.8,531.3 L567.4,531.8 L568.1,532.3 L568.7,532.7 L569.4,533 L570.1,533.2 L570.7,533.2 L571.4,533 L572.1,532.7 L572.7,532.3 L573.4,531.8 L574,531.3 L574.7,530.7 L575.4,530.2 L576,529.8 L576.7,529.4 L577.3,529.2 L578,529.2 L578.7,529.3 L579.3,529.5 L580,529.9 L580.7,530.4 L581.3,530.9 L582,531.5 L582.6,532 L583.3,532.5 L584,532.8 L584.6,533.1 L585.3,533.2 L585.9,533.1 L586.6,532.9 L587.3,532.6 L587.9,532.2 L588.6,531.7 L589.3,531.1 L589.9,530.6 L590.6,530.1 L591.2,529.7 L591.9,529.4 L592.6,529.2 L593.2,529.2 L593.9,529.4 L594.5,529.6 L595.2,530.1 L595.9,530.6 L596.5,531.1 L597.2,531.6 L597.9,532.2 L598.5,532.6 L599.2,532.9 L599.8,533.1 L600.5,533.2" fill="none" stroke="#84b630" stroke-width="1.55" stroke-linejoin="round" stroke-linecap="round" />
<path d="M600.5,532 L601.2,531.5 L601.8,530.9 L602.5,530.4 L603.2,529.9 L603.8,529.3 L604.5,528.7 L605.1,528 L605.8,527.2 L606.5,526.3 L607.1,525.2 L607.8,524 L608.5,522.6 L609.1,521.2 L609.8,519.7 L610.5,518.3 L611.1,516.9 L611.8,515.6 L612.5,514.5 L613.1,513.6 L613.8,512.6 L614.4,511.7 L615.1,510.9 L615.8,510.2 L616.4,509.6 L617.1,509.1 L617.8,508.7 L618.4,508.6 L619.1,508.6 L619.8,508.8 L620.4,509.2 L621.1,509.8 L621.8,510.5 L622.4,511.3 L623.1,512.1 L623.7,512.8 L624.4,513.5 L625.1,514.1 L625.7,514.8 L626.4,515.6 L627.1,516.4 L627.7,517.3 L628.4,518 L629.1,518.8 L629.7,519.5 L630.4,520.1 L631,520.6 L631.7,521 L632.4,521.1 L633,521 L633.7,520.6 L634.4,519.9 L635,519 L635.7,517.8 L636.4,516.6 L637,515.3 L637.7,514.1 L638.4,512.8 L639,511.4 L639.7,509.9 L640.3,508.3 L641,506.7 L641.7,505.1 L642.3,503.5 L643,501.9" fill="none" stroke="#84b630" stroke-width="1.55" stroke-linejoin="round" stroke-linecap="round" />
</g>
<rect x="414.5" y="473.5" width="228.5" height="91" fill="none" stroke="#6c6c6c" stroke-width="1.05"/>
<line x1="414.5" y1="547.2" x2="417.1" y2="547.2" stroke="#6c6c6c" stroke-width="1" />
<line x1="414.5" y1="528.8" x2="417.1" y2="528.8" stroke="#6c6c6c" stroke-width="1" />
<line x1="414.5" y1="510.4" x2="417.1" y2="510.4" stroke="#6c6c6c" stroke-width="1" />
<line x1="414.5" y1="492" x2="417.1" y2="492" stroke="#6c6c6c" stroke-width="1" />
<line x1="456.8" y1="564.5" x2="456.8" y2="561.9" stroke="#6c6c6c" stroke-width="1" />
<line x1="456.8" y1="473.5" x2="456.8" y2="476.1" stroke="#6c6c6c" stroke-width="1" />
<line x1="500.2" y1="564.5" x2="500.2" y2="561.9" stroke="#6c6c6c" stroke-width="1" />
<line x1="500.2" y1="473.5" x2="500.2" y2="476.1" stroke="#6c6c6c" stroke-width="1" />
<line x1="528.9" y1="564.5" x2="528.9" y2="561.9" stroke="#6c6c6c" stroke-width="1" />
<line x1="528.9" y1="473.5" x2="528.9" y2="476.1" stroke="#6c6c6c" stroke-width="1" />
<line x1="557.6" y1="564.5" x2="557.6" y2="561.9" stroke="#6c6c6c" stroke-width="1" />
<line x1="557.6" y1="473.5" x2="557.6" y2="476.1" stroke="#6c6c6c" stroke-width="1" />
<line x1="601" y1="564.5" x2="601" y2="561.9" stroke="#6c6c6c" stroke-width="1" />
<line x1="601" y1="473.5" x2="601" y2="476.1" stroke="#6c6c6c" stroke-width="1" />
<text x="410.8" y="478.9" font-size="8.5" text-anchor="end"  >1</text>
<text x="410.8" y="567.8" font-size="8.5" text-anchor="end"  >0</text>
<text x="421.3" y="489.6" font-size="12.5" text-anchor="start"  >F</text>
<rect x="618" y="476.3" width="50" height="18" fill="#fff"/>
<text x="621" y="488.9" font-size="11.5">n<tspan font-size="8" dy="3">eff</tspan><tspan dy="-3"> =0.59</tspan></text>
<line x1="556.3" y1="483" x2="566" y2="483" stroke="#f0a028" stroke-width="1.3" />
<text x="569" y="486.6" font-size="10.6" text-anchor="start"  ><tspan font-style="italic">S</tspan>-wave</text>
<line x1="556.3" y1="494.5" x2="566" y2="494.5" stroke="#4a7ec4" stroke-width="1.3" />
<text x="569" y="498.1" font-size="10.6" text-anchor="start"  ><tspan font-style="italic">P</tspan>-wave</text>
<line x1="556.3" y1="506.4" x2="566" y2="506.4" stroke="#84b630" stroke-width="1.3" />
<text x="569" y="510" font-size="10.6" text-anchor="start"  >total field</text>
<text x="457" y="575" font-size="10" text-anchor="middle"  >-(c/2+d)</text>
<text x="500" y="575" font-size="10" text-anchor="middle"  >-c/2</text>
<text x="558.5" y="575" font-size="10" text-anchor="middle"  >c/2</text>
<text x="600" y="575" font-size="10" text-anchor="middle"  >c/2+d</text>
<text x="528.4" y="574.9" font-size="9.6" text-anchor="middle"  >0</text>
<text x="528.3" y="593" font-size="11.5" text-anchor="middle"  >Transverse coordinate</text>
<text transform="translate(383.7,383.7) rotate(-90)" font-size="11.9" text-anchor="middle">Displacement field |u| [arb. u.]</text>
<text x="15" y="11" font-size="15.5" text-anchor="start" style="stroke-width:0.05px" >(a)</text>
<text x="14.6" y="268.8" font-size="15.5" text-anchor="start" style="stroke-width:0.05px" >(b)</text>
<text x="377.8" y="11" font-size="15.5" text-anchor="start" style="stroke-width:0.05px" >(c)</text>
<text x="49.5" y="47" font-size="10" text-anchor="end"  >1.25</text>
<text x="49.5" y="101" font-size="10" text-anchor="end"  >1</text>
<text x="49.5" y="155" font-size="10" text-anchor="end"  >0.75</text>
<text x="49.5" y="209" font-size="10" text-anchor="end"  >0.5</text>
<text x="49.5" y="304.5" font-size="10" text-anchor="end"  >0.01</text>
<text x="49.5" y="371.1" font-size="10" text-anchor="end"  >0.001</text>
<text x="40.5" y="437.8" font-size="10.5" text-anchor="end">10</text><text x="40.5" y="433.2" font-size="8">-4</text>
<text x="39.8" y="504.4" font-size="10.5" text-anchor="end">10</text><text x="41.5" y="500" font-size="8">-5</text>
<text x="54.5" y="514.3" font-size="10.5" text-anchor="middle"  >0.5</text>
<text x="155.9" y="514.3" font-size="10.5" text-anchor="middle"  >0.75</text>
<text x="258.3" y="514.3" font-size="10.5" text-anchor="middle"  >1</text>
<text x="150" y="528.5" font-size="11.8" text-anchor="middle"  >Cladding thickness d [μm]</text>
<text x="272.4" y="19.3" font-size="13.5" style="stroke-width:0.1px">v</text>
<text x="280.2" y="21.6" font-size="9.5" font-style="italic">s</text>
<text x="280.6" y="13.8" font-size="8.5">(2)</text>
<text x="272.4" y="94.6" font-size="13.5" style="stroke-width:0.1px">v</text>
<text x="280.2" y="96.9" font-size="9.5" font-style="italic">s</text>
<text x="280.6" y="89.1" font-size="8.5">(1)</text>
<text x="272.4" y="133.6" font-size="13.5" style="stroke-width:0.1px">v</text>
<text x="280.2" y="135.9" font-size="9.5" font-style="italic">p</text>
<text x="280.6" y="128.1" font-size="8.5">(2)</text>
<text x="272.4" y="181.8" font-size="13.5" style="stroke-width:0.1px">v</text>
<text x="280.2" y="184.1" font-size="9.5" font-style="italic">p</text>
<text x="280.6" y="176.3" font-size="8.5">(1)</text>
<text x="297" y="44.9" font-size="10.25" text-anchor="start" font-style="italic" style="stroke-width:0.12px" >conventional S</text>
<text x="297" y="56.5" font-size="10.25" text-anchor="start" font-style="italic" style="stroke-width:0.12px" >evanescent P</text>
<text x="297" y="104.4" font-size="10.25" text-anchor="start" font-style="italic" style="stroke-width:0.12px" >leaky S,</text>
<text x="297" y="115.6" font-size="10.25" text-anchor="start" font-style="italic" style="stroke-width:0.12px" >evanescent P</text>
<text x="297" y="151.8" font-size="10.25" text-anchor="start" font-style="italic" style="stroke-width:0.12px" >leaky S,</text>
<text x="297" y="162.8" font-size="10.25" text-anchor="start" font-style="italic" style="stroke-width:0.12px" >'conventional' P</text>
<text x="297" y="205.9" font-size="10.25" text-anchor="start" font-style="italic" style="stroke-width:0.12px" >leaky S,</text>
<text x="297" y="217.3" font-size="10.25" text-anchor="start" font-style="italic" style="stroke-width:0.12px" >leaky P</text>
<text transform="translate(15.2,208) rotate(-90)" font-size="11">Effective mode index n<tspan font-size="8" dy="2.8">eff</tspan><tspan dy="-2.8"> =Re(β)/k</tspan><tspan font-size="8" dy="2.8">s,0</tspan><tspan font-size="8" dx="-9" dy="-9.5">(1)</tspan></text>
<text transform="translate(12.2,424) rotate(-90)" font-size="11.5">Loss Im(β)/k<tspan font-size="8" dy="2.8">s,0</tspan><tspan font-size="8" dx="-9" dy="-9.5">(1)</tspan></text>
</svg></body></html>
